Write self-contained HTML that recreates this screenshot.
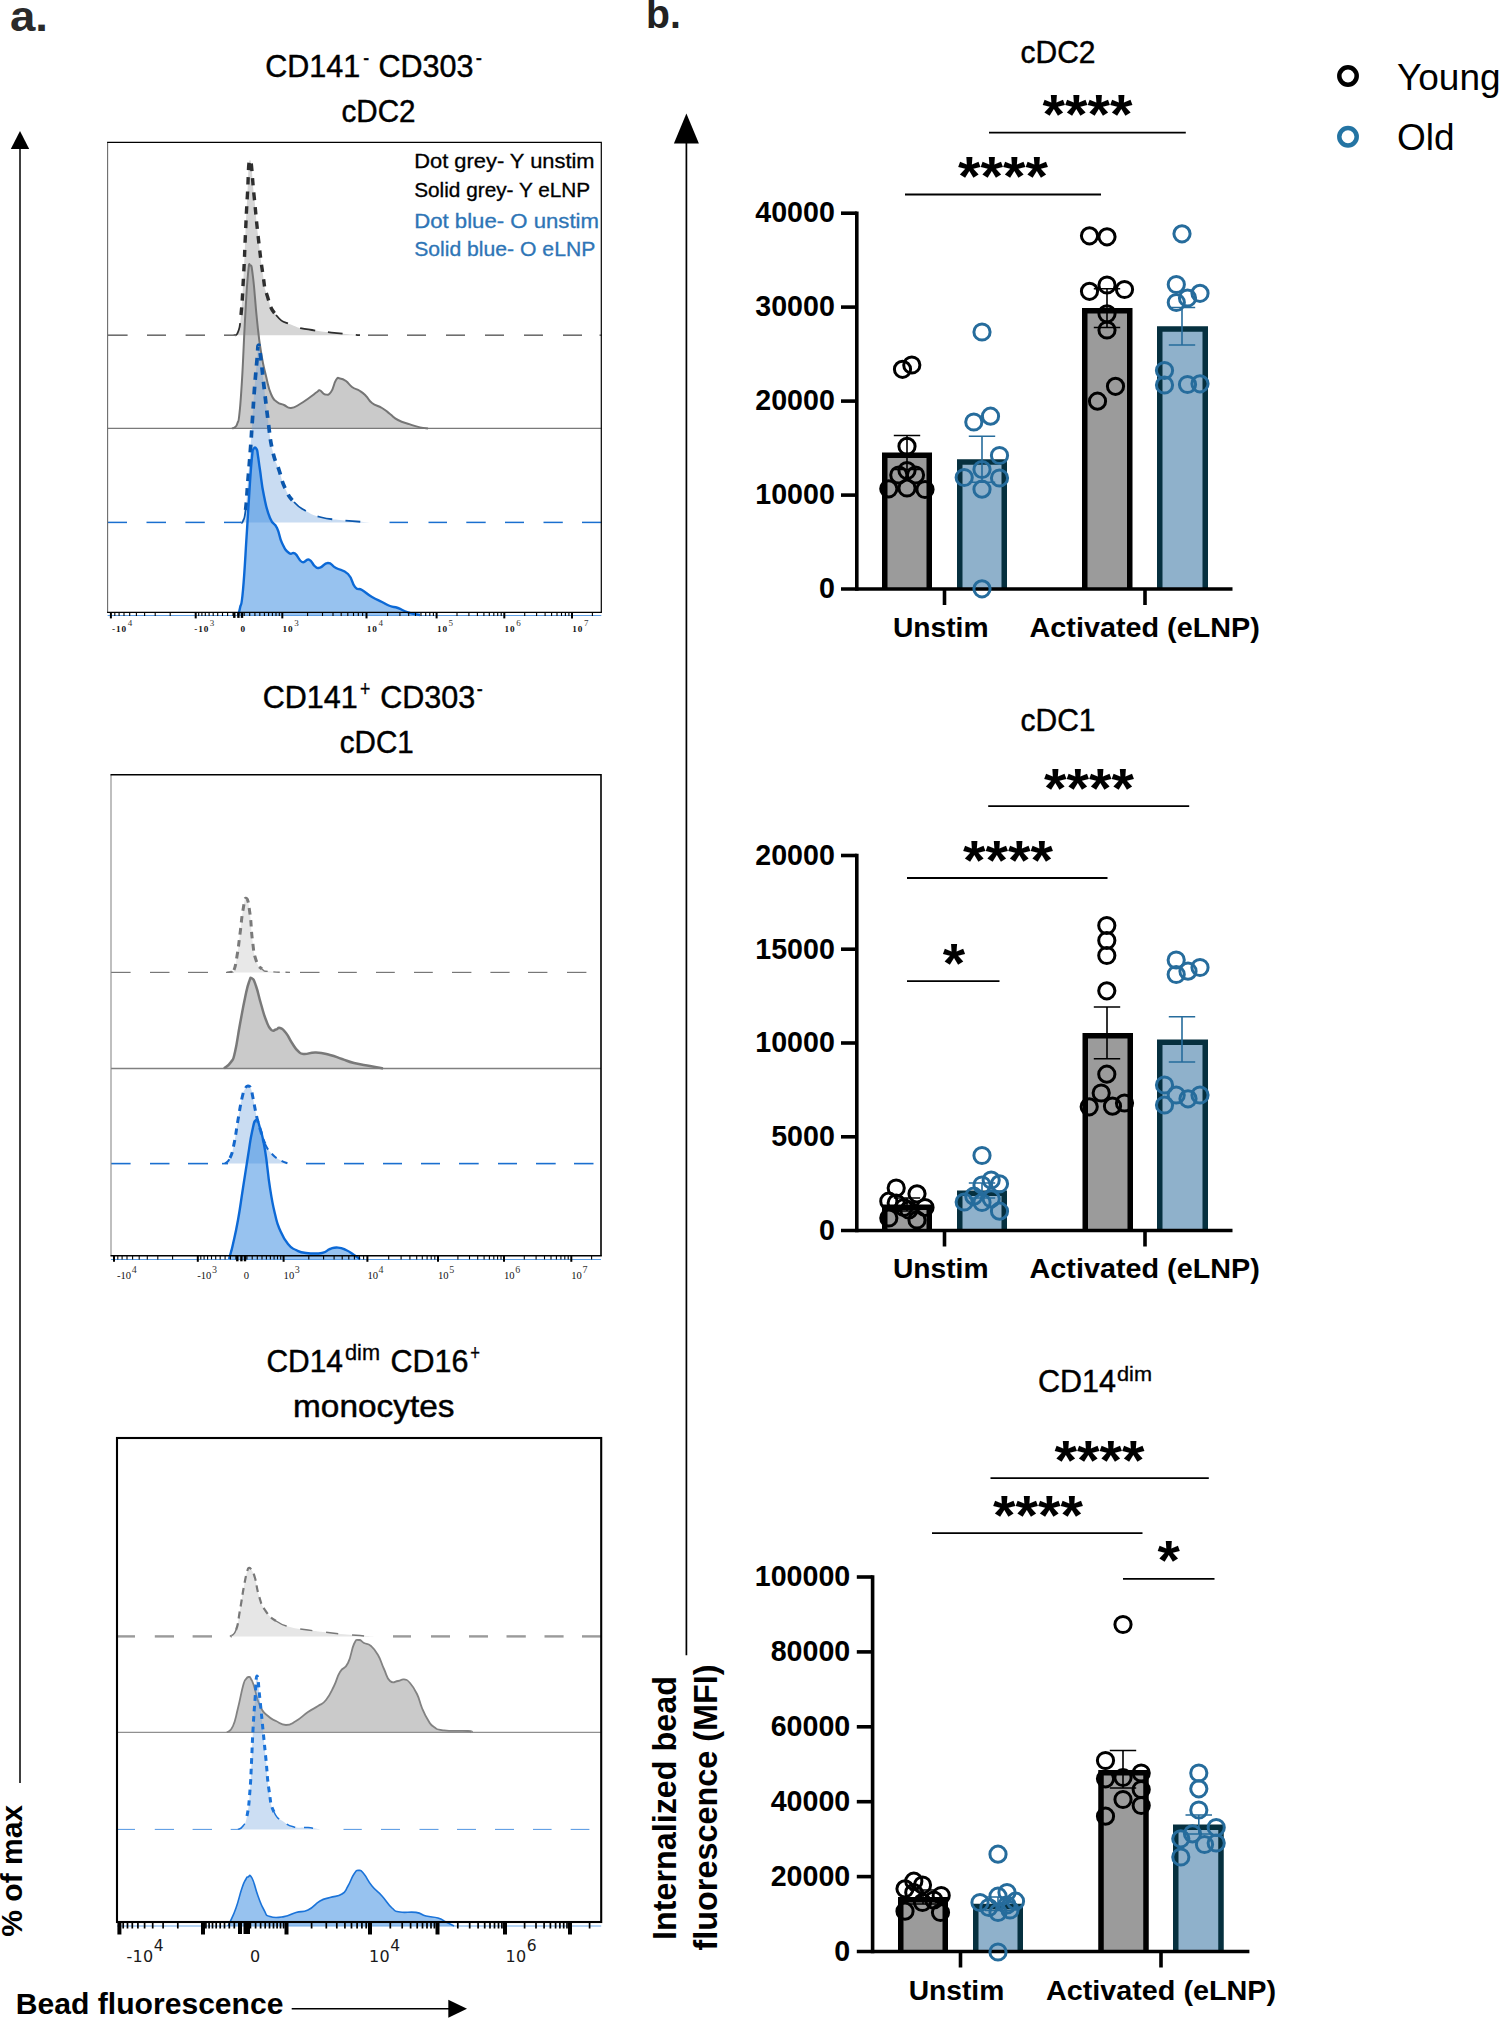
<!DOCTYPE html>
<html><head><meta charset="utf-8"><title>Figure</title>
<style>html,body{margin:0;padding:0;background:#fff;}svg{display:block;font-family:'Liberation Sans', Arial, sans-serif;}</style>
</head><body>
<svg width="1500" height="2018" viewBox="0 0 1500 2018">
<rect width="1500" height="2018" fill="#fff"/>
<g id="panelA">
<text x="10.0" y="31.0" font-size="42.00" font-weight="bold" fill="#2a2a2a" text-anchor="start" textLength="38.0" lengthAdjust="spacingAndGlyphs" >a.</text>
<line x1="20" y1="148" x2="20" y2="1783" stroke="#000" stroke-width="1.5"/>
<polygon points="20,131 10.8,149 29.2,149" fill="#000"/>
<text transform="translate(21.8,1936.7) rotate(-90)" font-size="30" font-weight="bold" fill="#000">% of max</text>
<text x="15.8" y="2013.5" font-size="29.50" font-weight="bold" fill="#000" text-anchor="start" textLength="267.7" lengthAdjust="spacingAndGlyphs" >Bead fluorescence</text>
<line x1="291.7" y1="2008.7" x2="450" y2="2008.7" stroke="#000" stroke-width="1.5"/>
<polygon points="467,2008.7 448.3,1999.7 448.3,2017.7" fill="#000"/>
<g id="plot1">
<path d="M234.0 335.2C235.1 334.3 236.1 337.4 238.0 332.0C239.9 326.6 239.5 330.2 241.0 315.0C242.5 299.8 242.4 296.3 243.6 275.0C244.8 253.7 244.4 256.3 245.4 235.0C246.4 213.7 246.2 215.0 247.4 195.0C248.6 175.0 248.2 160.0 250.0 160.0C251.8 160.0 251.9 175.0 254.0 195.0C256.1 215.0 255.6 213.7 258.0 235.0C260.4 256.3 260.6 259.0 263.0 275.0C265.4 291.0 263.5 284.3 267.0 295.0C270.5 305.7 269.3 307.0 276.0 315.0C282.7 323.0 282.4 321.0 292.0 325.0C301.6 329.0 297.6 327.6 312.0 330.0C326.4 332.4 333.2 332.6 346.0 334.0C358.8 335.4 356.3 334.9 360.0 335.2 L360.0 335.2 L234.0 335.2 Z" fill="#d6d6d6" fill-opacity="1.00" stroke="none"/>
<path d="M234.0 335.2C235.1 334.3 236.1 337.4 238.0 332.0C239.9 326.6 239.5 330.2 241.0 315.0" fill="none" stroke="#2e2e2e" stroke-width="1.80" stroke-dasharray="15 13"/>
<path d="M241.0 315.0C242.5 299.8 242.4 296.3 243.6 275.0C244.8 253.7 244.4 256.3 245.4 235.0C246.4 213.7 246.2 215.0 247.4 195.0C248.6 175.0 248.2 160.0 250.0 160.0C251.8 160.0 251.9 175.0 254.0 195.0C256.1 215.0 255.6 213.7 258.0 235.0C260.4 256.3 260.6 259.0 263.0 275.0C265.4 291.0 263.5 284.3 267.0 295.0C270.5 305.7 269.3 307.0 276.0 315.0" fill="none" stroke="#2e2e2e" stroke-width="3.40" stroke-dasharray="7.5 7" stroke-linejoin="round"/>
<path d="M276.0 315.0C282.7 323.0 282.4 321.0 292.0 325.0C301.6 329.0 297.6 327.6 312.0 330.0C326.4 332.4 333.2 332.6 346.0 334.0C358.8 335.4 356.3 334.9 360.0 335.2" fill="none" stroke="#2e2e2e" stroke-width="1.80" stroke-dasharray="15 13"/>
<line x1="107.6" y1="335.2" x2="127.6" y2="335.2" stroke="#6e6e6e" stroke-width="1.60"/>
<line x1="147.0" y1="335.2" x2="166.0" y2="335.2" stroke="#6e6e6e" stroke-width="1.60"/>
<line x1="185.6" y1="335.2" x2="205.0" y2="335.2" stroke="#6e6e6e" stroke-width="1.60"/>
<line x1="224.0" y1="335.2" x2="236.0" y2="335.2" stroke="#6e6e6e" stroke-width="1.60"/>
<line x1="368.0" y1="335.2" x2="388.0" y2="335.2" stroke="#6e6e6e" stroke-width="1.60"/>
<line x1="407.0" y1="335.2" x2="426.0" y2="335.2" stroke="#6e6e6e" stroke-width="1.60"/>
<line x1="446.0" y1="335.2" x2="465.0" y2="335.2" stroke="#6e6e6e" stroke-width="1.60"/>
<line x1="485.0" y1="335.2" x2="504.0" y2="335.2" stroke="#6e6e6e" stroke-width="1.60"/>
<line x1="524.0" y1="335.2" x2="543.0" y2="335.2" stroke="#6e6e6e" stroke-width="1.60"/>
<line x1="563.0" y1="335.2" x2="582.0" y2="335.2" stroke="#6e6e6e" stroke-width="1.60"/>
<line x1="599.5" y1="335.2" x2="601.8" y2="335.2" stroke="#6e6e6e" stroke-width="1.60"/>
<path d="M232.0 428.4C232.8 428.1 233.5 428.6 235.0 427.2C236.5 425.8 236.3 426.8 237.5 423.0C238.7 419.2 238.3 424.5 239.5 413.0C240.7 401.5 240.5 404.8 242.0 380.0C243.5 355.2 243.4 348.3 245.0 320.0C246.6 291.7 246.6 288.5 248.0 274.0C249.4 259.5 249.0 264.7 250.3 265.5C251.6 266.3 251.2 262.5 253.0 277.0C254.8 291.5 254.9 300.0 257.0 320.0C259.1 340.0 258.6 337.1 261.0 352.0C263.4 366.9 263.3 364.8 266.0 376.0C268.7 387.2 268.1 387.1 271.0 394.0C273.9 400.9 273.5 399.1 277.0 402.0C280.5 404.9 280.3 403.4 284.0 405.0C287.7 406.6 286.7 408.3 291.0 408.0C295.3 407.7 295.2 406.7 300.0 404.0C304.8 401.3 304.5 401.2 309.0 398.0C313.5 394.8 314.1 394.0 317.0 392.0C319.9 390.0 317.9 389.8 320.0 390.4C322.1 391.0 322.1 394.0 325.0 394.4C327.9 394.8 328.1 395.8 331.0 392.0C333.9 388.2 333.6 383.6 336.0 380.0C338.4 376.4 337.3 378.1 340.0 378.4C342.7 378.7 342.8 378.7 346.0 381.0C349.2 383.3 348.3 384.3 352.0 387.0C355.7 389.7 356.3 388.6 360.0 391.0C363.7 393.4 362.8 392.8 366.0 396.0C369.2 399.2 367.7 399.8 372.0 403.0C376.3 406.2 377.2 405.1 382.0 408.0C386.8 410.9 385.7 410.8 390.0 414.0C394.3 417.2 392.7 417.2 398.0 420.0C403.3 422.8 404.1 422.4 410.0 424.4C415.9 426.4 415.2 426.3 420.0 427.4C424.8 428.5 425.9 428.1 428.0 428.4 L428.0 428.4 L232.0 428.4 Z" fill="#808080" fill-opacity="0.42" stroke="none"/>
<path d="M107.6 428.4 L601.3 428.4" fill="none" stroke="#7a7a7a" stroke-width="1.30"/>
<path d="M232.0 428.4C232.8 428.1 233.5 428.6 235.0 427.2C236.5 425.8 236.3 426.8 237.5 423.0C238.7 419.2 238.3 424.5 239.5 413.0C240.7 401.5 240.5 404.8 242.0 380.0C243.5 355.2 243.4 348.3 245.0 320.0C246.6 291.7 246.6 288.5 248.0 274.0C249.4 259.5 249.0 264.7 250.3 265.5C251.6 266.3 251.2 262.5 253.0 277.0C254.8 291.5 254.9 300.0 257.0 320.0C259.1 340.0 258.6 337.1 261.0 352.0C263.4 366.9 263.3 364.8 266.0 376.0C268.7 387.2 268.1 387.1 271.0 394.0C273.9 400.9 273.5 399.1 277.0 402.0C280.5 404.9 280.3 403.4 284.0 405.0C287.7 406.6 286.7 408.3 291.0 408.0C295.3 407.7 295.2 406.7 300.0 404.0C304.8 401.3 304.5 401.2 309.0 398.0C313.5 394.8 314.1 394.0 317.0 392.0C319.9 390.0 317.9 389.8 320.0 390.4C322.1 391.0 322.1 394.0 325.0 394.4C327.9 394.8 328.1 395.8 331.0 392.0C333.9 388.2 333.6 383.6 336.0 380.0C338.4 376.4 337.3 378.1 340.0 378.4C342.7 378.7 342.8 378.7 346.0 381.0C349.2 383.3 348.3 384.3 352.0 387.0C355.7 389.7 356.3 388.6 360.0 391.0C363.7 393.4 362.8 392.8 366.0 396.0C369.2 399.2 367.7 399.8 372.0 403.0C376.3 406.2 377.2 405.1 382.0 408.0C386.8 410.9 385.7 410.8 390.0 414.0C394.3 417.2 392.7 417.2 398.0 420.0C403.3 422.8 404.1 422.4 410.0 424.4C415.9 426.4 415.2 426.3 420.0 427.4C424.8 428.5 425.9 428.1 428.0 428.4" fill="none" stroke="#757575" stroke-width="2.00" stroke-linejoin="round"/>
<path d="M241.0 522.4C241.5 522.0 241.8 524.3 243.0 521.0C244.2 517.7 244.3 520.9 245.6 510.0C246.9 499.1 246.7 496.0 248.0 480.0C249.3 464.0 249.2 466.0 250.4 450.0C251.6 434.0 251.3 436.0 252.4 420.0C253.5 404.0 253.2 406.0 254.4 390.0C255.6 374.0 255.9 372.0 257.0 360.0C258.1 348.0 257.5 345.0 258.6 345.0C259.7 345.0 259.5 348.0 261.0 360.0C262.5 372.0 262.5 374.0 264.4 390.0C266.3 406.0 265.9 404.0 268.0 420.0C270.1 436.0 269.5 436.7 272.4 450.0C275.3 463.3 275.6 459.9 279.0 470.0C282.4 480.1 281.0 479.5 285.0 488.0C289.0 496.5 288.4 495.9 294.0 502.0C299.6 508.1 299.1 507.0 306.0 511.0C312.9 515.0 310.9 514.6 320.0 517.0C329.1 519.4 326.7 518.6 340.0 520.0C353.3 521.4 362.0 521.8 370.0 522.4 L370.0 522.4 L241.0 522.4 Z" fill="#6a9fdc" fill-opacity="0.36" stroke="none"/>
<path d="M241.0 522.4C241.5 522.0 241.8 524.3 243.0 521.0C244.2 517.7 244.3 520.9 245.6 510.0" fill="none" stroke="#0b57ad" stroke-width="1.80" stroke-dasharray="15 13"/>
<path d="M245.6 510.0C246.9 499.1 246.7 496.0 248.0 480.0C249.3 464.0 249.2 466.0 250.4 450.0C251.6 434.0 251.3 436.0 252.4 420.0C253.5 404.0 253.2 406.0 254.4 390.0C255.6 374.0 255.9 372.0 257.0 360.0C258.1 348.0 257.5 345.0 258.6 345.0C259.7 345.0 259.5 348.0 261.0 360.0C262.5 372.0 262.5 374.0 264.4 390.0C266.3 406.0 265.9 404.0 268.0 420.0C270.1 436.0 269.5 436.7 272.4 450.0C275.3 463.3 275.6 459.9 279.0 470.0C282.4 480.1 281.0 479.5 285.0 488.0C289.0 496.5 288.4 495.9 294.0 502.0" fill="none" stroke="#0b57ad" stroke-width="3.70" stroke-dasharray="7.5 7" stroke-linejoin="round"/>
<path d="M294.0 502.0C299.6 508.1 299.1 507.0 306.0 511.0C312.9 515.0 310.9 514.6 320.0 517.0C329.1 519.4 326.7 518.6 340.0 520.0C353.3 521.4 362.0 521.8 370.0 522.4" fill="none" stroke="#0b57ad" stroke-width="1.80" stroke-dasharray="15 13"/>
<line x1="107.7" y1="522.4" x2="127.0" y2="522.4" stroke="#1a6fcf" stroke-width="1.50"/>
<line x1="146.5" y1="522.4" x2="166.0" y2="522.4" stroke="#1a6fcf" stroke-width="1.50"/>
<line x1="185.4" y1="522.4" x2="204.8" y2="522.4" stroke="#1a6fcf" stroke-width="1.50"/>
<line x1="224.0" y1="522.4" x2="241.0" y2="522.4" stroke="#1a6fcf" stroke-width="1.50"/>
<line x1="389.5" y1="522.4" x2="408.0" y2="522.4" stroke="#1a6fcf" stroke-width="1.50"/>
<line x1="428.5" y1="522.4" x2="447.0" y2="522.4" stroke="#1a6fcf" stroke-width="1.50"/>
<line x1="466.3" y1="522.4" x2="485.7" y2="522.4" stroke="#1a6fcf" stroke-width="1.50"/>
<line x1="505.0" y1="522.4" x2="524.0" y2="522.4" stroke="#1a6fcf" stroke-width="1.50"/>
<line x1="543.5" y1="522.4" x2="562.8" y2="522.4" stroke="#1a6fcf" stroke-width="1.50"/>
<line x1="582.0" y1="522.4" x2="601.6" y2="522.4" stroke="#1a6fcf" stroke-width="1.50"/>
<path d="M238.0 615.0C238.5 613.1 238.7 614.7 240.0 608.0C241.3 601.3 241.1 610.8 243.0 590.0C244.9 569.2 245.1 558.8 247.0 530.0C248.9 501.2 248.7 501.5 250.0 482.0C251.3 462.5 251.1 465.8 252.0 457.0C252.9 448.2 252.3 451.1 253.5 449.0C254.7 446.9 255.3 447.1 256.5 449.0C257.7 450.9 257.1 450.4 258.0 456.0C258.9 461.6 258.4 459.3 260.0 470.0C261.6 480.7 261.3 483.2 264.0 496.0C266.7 508.8 266.5 509.5 270.0 518.0C273.5 526.5 273.8 521.3 277.0 528.0C280.2 534.7 278.8 536.3 282.0 543.0C285.2 549.7 285.5 550.2 289.0 553.0C292.5 555.8 291.5 551.2 295.0 553.6C298.5 556.0 298.3 560.4 302.0 562.0C305.7 563.6 305.5 558.4 309.0 559.6C312.5 560.8 312.1 564.3 315.0 566.4C317.9 568.5 316.5 568.5 320.0 567.6C323.5 566.7 323.7 562.9 328.0 563.0C332.3 563.1 330.7 565.1 336.0 568.0C341.3 570.9 342.9 568.9 348.0 574.0C353.1 579.1 351.3 582.7 355.0 587.0C358.7 591.3 357.5 587.3 362.0 590.0C366.5 592.7 366.7 593.8 372.0 597.0C377.3 600.2 377.2 599.6 382.0 602.0C386.8 604.4 385.7 604.4 390.0 606.0C394.3 607.6 393.2 606.3 398.0 608.0C402.8 609.7 402.1 610.5 408.0 612.4C413.9 614.3 416.8 614.3 420.0 615.0 L420.0 615.5 L238.0 615.5 Z" fill="#2f86e0" fill-opacity="0.50" stroke="none"/>
<path d="M107.6 615.5 L601.3 615.5" fill="none" stroke="#5e9fe6" stroke-width="1.00"/>
<path d="M238.0 615.0C238.5 613.1 238.7 614.7 240.0 608.0C241.3 601.3 241.1 610.8 243.0 590.0C244.9 569.2 245.1 558.8 247.0 530.0C248.9 501.2 248.7 501.5 250.0 482.0C251.3 462.5 251.1 465.8 252.0 457.0C252.9 448.2 252.3 451.1 253.5 449.0C254.7 446.9 255.3 447.1 256.5 449.0C257.7 450.9 257.1 450.4 258.0 456.0C258.9 461.6 258.4 459.3 260.0 470.0C261.6 480.7 261.3 483.2 264.0 496.0C266.7 508.8 266.5 509.5 270.0 518.0C273.5 526.5 273.8 521.3 277.0 528.0C280.2 534.7 278.8 536.3 282.0 543.0C285.2 549.7 285.5 550.2 289.0 553.0C292.5 555.8 291.5 551.2 295.0 553.6C298.5 556.0 298.3 560.4 302.0 562.0C305.7 563.6 305.5 558.4 309.0 559.6C312.5 560.8 312.1 564.3 315.0 566.4C317.9 568.5 316.5 568.5 320.0 567.6C323.5 566.7 323.7 562.9 328.0 563.0C332.3 563.1 330.7 565.1 336.0 568.0C341.3 570.9 342.9 568.9 348.0 574.0C353.1 579.1 351.3 582.7 355.0 587.0C358.7 591.3 357.5 587.3 362.0 590.0C366.5 592.7 366.7 593.8 372.0 597.0C377.3 600.2 377.2 599.6 382.0 602.0C386.8 604.4 385.7 604.4 390.0 606.0C394.3 607.6 393.2 606.3 398.0 608.0C402.8 609.7 402.1 610.5 408.0 612.4C413.9 614.3 416.8 614.3 420.0 615.0" fill="none" stroke="#0c69d6" stroke-width="2.40" stroke-linejoin="round"/>
<path d="M107.6 142.4 V612.4" fill="none" stroke="#6a6a6a" stroke-width="1.1"/>
<path d="M107.1 142.4 H601.3 V612.4" fill="none" stroke="#000" stroke-width="1.2"/>
<path d="M107.1 612.4 H601.9" fill="none" stroke="#000" stroke-width="1.2"/>
<line x1="307.6" y1="612.4" x2="307.6" y2="616.0" stroke="#000" stroke-width="1.10"/>
<line x1="322.5" y1="612.4" x2="322.5" y2="616.0" stroke="#000" stroke-width="1.10"/>
<line x1="333.0" y1="612.4" x2="333.0" y2="616.0" stroke="#000" stroke-width="1.10"/>
<line x1="341.2" y1="612.4" x2="341.2" y2="616.0" stroke="#000" stroke-width="1.10"/>
<line x1="347.8" y1="612.4" x2="347.8" y2="616.0" stroke="#000" stroke-width="1.10"/>
<line x1="353.5" y1="612.4" x2="353.5" y2="616.0" stroke="#000" stroke-width="1.10"/>
<line x1="358.3" y1="612.4" x2="358.3" y2="616.0" stroke="#000" stroke-width="1.10"/>
<line x1="362.6" y1="612.4" x2="362.6" y2="616.0" stroke="#000" stroke-width="1.10"/>
<line x1="387.6" y1="612.4" x2="387.6" y2="616.0" stroke="#000" stroke-width="1.10"/>
<line x1="399.9" y1="612.4" x2="399.9" y2="616.0" stroke="#000" stroke-width="1.10"/>
<line x1="408.7" y1="612.4" x2="408.7" y2="616.0" stroke="#000" stroke-width="1.10"/>
<line x1="415.5" y1="612.4" x2="415.5" y2="616.0" stroke="#000" stroke-width="1.10"/>
<line x1="421.0" y1="612.4" x2="421.0" y2="616.0" stroke="#000" stroke-width="1.10"/>
<line x1="425.7" y1="612.4" x2="425.7" y2="616.0" stroke="#000" stroke-width="1.10"/>
<line x1="429.8" y1="612.4" x2="429.8" y2="616.0" stroke="#000" stroke-width="1.10"/>
<line x1="433.4" y1="612.4" x2="433.4" y2="616.0" stroke="#000" stroke-width="1.10"/>
<line x1="457.0" y1="612.4" x2="457.0" y2="616.0" stroke="#000" stroke-width="1.10"/>
<line x1="468.9" y1="612.4" x2="468.9" y2="616.0" stroke="#000" stroke-width="1.10"/>
<line x1="477.4" y1="612.4" x2="477.4" y2="616.0" stroke="#000" stroke-width="1.10"/>
<line x1="483.9" y1="612.4" x2="483.9" y2="616.0" stroke="#000" stroke-width="1.10"/>
<line x1="489.3" y1="612.4" x2="489.3" y2="616.0" stroke="#000" stroke-width="1.10"/>
<line x1="493.8" y1="612.4" x2="493.8" y2="616.0" stroke="#000" stroke-width="1.10"/>
<line x1="497.7" y1="612.4" x2="497.7" y2="616.0" stroke="#000" stroke-width="1.10"/>
<line x1="501.2" y1="612.4" x2="501.2" y2="616.0" stroke="#000" stroke-width="1.10"/>
<line x1="524.7" y1="612.4" x2="524.7" y2="616.0" stroke="#000" stroke-width="1.10"/>
<line x1="536.6" y1="612.4" x2="536.6" y2="616.0" stroke="#000" stroke-width="1.10"/>
<line x1="545.1" y1="612.4" x2="545.1" y2="616.0" stroke="#000" stroke-width="1.10"/>
<line x1="551.6" y1="612.4" x2="551.6" y2="616.0" stroke="#000" stroke-width="1.10"/>
<line x1="557.0" y1="612.4" x2="557.0" y2="616.0" stroke="#000" stroke-width="1.10"/>
<line x1="561.5" y1="612.4" x2="561.5" y2="616.0" stroke="#000" stroke-width="1.10"/>
<line x1="565.4" y1="612.4" x2="565.4" y2="616.0" stroke="#000" stroke-width="1.10"/>
<line x1="568.9" y1="612.4" x2="568.9" y2="616.0" stroke="#000" stroke-width="1.10"/>
<line x1="592.4" y1="612.4" x2="592.4" y2="616.0" stroke="#000" stroke-width="1.10"/>
<line x1="170.2" y1="612.4" x2="170.2" y2="616.0" stroke="#000" stroke-width="1.10"/>
<line x1="155.2" y1="612.4" x2="155.2" y2="616.0" stroke="#000" stroke-width="1.10"/>
<line x1="144.6" y1="612.4" x2="144.6" y2="616.0" stroke="#000" stroke-width="1.10"/>
<line x1="136.4" y1="612.4" x2="136.4" y2="616.0" stroke="#000" stroke-width="1.10"/>
<line x1="129.7" y1="612.4" x2="129.7" y2="616.0" stroke="#000" stroke-width="1.10"/>
<line x1="124.0" y1="612.4" x2="124.0" y2="616.0" stroke="#000" stroke-width="1.10"/>
<line x1="119.1" y1="612.4" x2="119.1" y2="616.0" stroke="#000" stroke-width="1.10"/>
<line x1="114.8" y1="612.4" x2="114.8" y2="616.0" stroke="#000" stroke-width="1.10"/>
<line x1="244.2" y1="612.4" x2="244.2" y2="616.0" stroke="#000" stroke-width="1.10"/>
<line x1="249.7" y1="612.4" x2="249.7" y2="616.0" stroke="#000" stroke-width="1.10"/>
<line x1="254.9" y1="612.4" x2="254.9" y2="616.0" stroke="#000" stroke-width="1.10"/>
<line x1="259.8" y1="612.4" x2="259.8" y2="616.0" stroke="#000" stroke-width="1.10"/>
<line x1="264.4" y1="612.4" x2="264.4" y2="616.0" stroke="#000" stroke-width="1.10"/>
<line x1="268.6" y1="612.4" x2="268.6" y2="616.0" stroke="#000" stroke-width="1.10"/>
<line x1="272.4" y1="612.4" x2="272.4" y2="616.0" stroke="#000" stroke-width="1.10"/>
<line x1="276.0" y1="612.4" x2="276.0" y2="616.0" stroke="#000" stroke-width="1.10"/>
<line x1="279.3" y1="612.4" x2="279.3" y2="616.0" stroke="#000" stroke-width="1.10"/>
<line x1="233.0" y1="612.4" x2="233.0" y2="616.0" stroke="#000" stroke-width="1.10"/>
<line x1="227.6" y1="612.4" x2="227.6" y2="616.0" stroke="#000" stroke-width="1.10"/>
<line x1="222.5" y1="612.4" x2="222.5" y2="616.0" stroke="#000" stroke-width="1.10"/>
<line x1="217.7" y1="612.4" x2="217.7" y2="616.0" stroke="#000" stroke-width="1.10"/>
<line x1="213.2" y1="612.4" x2="213.2" y2="616.0" stroke="#000" stroke-width="1.10"/>
<line x1="209.1" y1="612.4" x2="209.1" y2="616.0" stroke="#000" stroke-width="1.10"/>
<line x1="205.3" y1="612.4" x2="205.3" y2="616.0" stroke="#000" stroke-width="1.10"/>
<line x1="201.9" y1="612.4" x2="201.9" y2="616.0" stroke="#000" stroke-width="1.10"/>
<line x1="198.7" y1="612.4" x2="198.7" y2="616.0" stroke="#000" stroke-width="1.10"/>
<line x1="110.9" y1="612.4" x2="110.9" y2="618.4" stroke="#000" stroke-width="2.00"/>
<line x1="195.7" y1="612.4" x2="195.7" y2="618.4" stroke="#000" stroke-width="2.00"/>
<line x1="282.3" y1="612.4" x2="282.3" y2="618.4" stroke="#000" stroke-width="2.00"/>
<line x1="366.5" y1="612.4" x2="366.5" y2="618.4" stroke="#000" stroke-width="2.00"/>
<line x1="436.6" y1="612.4" x2="436.6" y2="618.4" stroke="#000" stroke-width="2.00"/>
<line x1="504.3" y1="612.4" x2="504.3" y2="618.4" stroke="#000" stroke-width="2.00"/>
<line x1="572.0" y1="612.4" x2="572.0" y2="618.4" stroke="#000" stroke-width="2.00"/>
<rect x="233.1" y="612.4" width="2.4" height="5.5" fill="#000"/>
<rect x="237.2" y="612.4" width="2.4" height="5.5" fill="#000"/>
<rect x="240.8" y="612.4" width="2.4" height="5.5" fill="#000"/>
<text x="112.1" y="631.8" font-size="9.2" fill="#111" font-weight="bold" letter-spacing="0.9" font-family='"Liberation Serif", "DejaVu Serif", serif'>-10<tspan dx="0.6" dy="-5.6" font-size="9.0" font-weight="normal" fill="#333">4</tspan></text>
<text x="194.2" y="631.8" font-size="9.2" fill="#111" font-weight="bold" letter-spacing="0.9" font-family='"Liberation Serif", "DejaVu Serif", serif'>-10<tspan dx="0.6" dy="-5.6" font-size="9.0" font-weight="normal" fill="#333">3</tspan></text>
<text x="240.5" y="631.8" font-size="9.2" fill="#111" font-weight="bold" letter-spacing="0.9" font-family='"Liberation Serif", "DejaVu Serif", serif'>0</text>
<text x="282.6" y="631.8" font-size="9.2" fill="#111" font-weight="bold" letter-spacing="0.9" font-family='"Liberation Serif", "DejaVu Serif", serif'>10<tspan dx="0.6" dy="-5.6" font-size="9.0" font-weight="normal" fill="#333">3</tspan></text>
<text x="366.8" y="631.8" font-size="9.2" fill="#111" font-weight="bold" letter-spacing="0.9" font-family='"Liberation Serif", "DejaVu Serif", serif'>10<tspan dx="0.6" dy="-5.6" font-size="9.0" font-weight="normal" fill="#333">4</tspan></text>
<text x="436.9" y="631.8" font-size="9.2" fill="#111" font-weight="bold" letter-spacing="0.9" font-family='"Liberation Serif", "DejaVu Serif", serif'>10<tspan dx="0.6" dy="-5.6" font-size="9.0" font-weight="normal" fill="#333">5</tspan></text>
<text x="504.6" y="631.8" font-size="9.2" fill="#111" font-weight="bold" letter-spacing="0.9" font-family='"Liberation Serif", "DejaVu Serif", serif'>10<tspan dx="0.6" dy="-5.6" font-size="9.0" font-weight="normal" fill="#333">6</tspan></text>
<text x="572.3" y="631.8" font-size="9.2" fill="#111" font-weight="bold" letter-spacing="0.9" font-family='"Liberation Serif", "DejaVu Serif", serif'>10<tspan dx="0.6" dy="-5.6" font-size="9.0" font-weight="normal" fill="#333">7</tspan></text>
<text x="414.2" y="168.0" font-size="19.50" font-weight="normal" fill="#000" text-anchor="start" textLength="180.4" lengthAdjust="spacingAndGlyphs"  stroke="#000" stroke-width="0.30">Dot grey- Y unstim</text>
<text x="414.2" y="197.3" font-size="19.50" font-weight="normal" fill="#000" text-anchor="start" textLength="176.0" lengthAdjust="spacingAndGlyphs"  stroke="#000" stroke-width="0.30">Solid grey- Y eLNP</text>
<text x="414.2" y="227.7" font-size="19.50" font-weight="normal" fill="#2e75b6" text-anchor="start" textLength="184.8" lengthAdjust="spacingAndGlyphs"  stroke="#2e75b6" stroke-width="0.30">Dot blue- O unstim</text>
<text x="414.2" y="255.6" font-size="19.50" font-weight="normal" fill="#2e75b6" text-anchor="start" textLength="181.1" lengthAdjust="spacingAndGlyphs"  stroke="#2e75b6" stroke-width="0.30">Solid blue- O eLNP</text>
</g>
<text x="265.2" y="76.7" font-size="30.50" font-weight="normal" fill="#000" text-anchor="start" textLength="95.0" lengthAdjust="spacingAndGlyphs"  stroke="#000" stroke-width="0.45">CD141</text>
<text x="363.3" y="65.1" font-size="21.35" font-weight="normal" fill="#000" text-anchor="start" textLength="5.9" lengthAdjust="spacingAndGlyphs"  stroke="#000" stroke-width="0.30">-</text>
<text x="378.5" y="76.7" font-size="30.50" font-weight="normal" fill="#000" text-anchor="start" textLength="95.0" lengthAdjust="spacingAndGlyphs"  stroke="#000" stroke-width="0.45">CD303</text>
<text x="475.8" y="65.1" font-size="21.35" font-weight="normal" fill="#000" text-anchor="start" textLength="6.2" lengthAdjust="spacingAndGlyphs"  stroke="#000" stroke-width="0.30">-</text>
<text x="341.5" y="121.7" font-size="30.50" font-weight="normal" fill="#000" text-anchor="start" textLength="74.0" lengthAdjust="spacingAndGlyphs"  stroke="#000" stroke-width="0.45">cDC2</text>
<g id="plot2">
<path d="M227.0 972.4C228.1 972.2 229.1 972.1 231.0 971.5C232.9 970.9 232.4 974.1 234.0 970.0C235.6 965.9 235.4 965.6 237.0 956.0C238.6 946.4 238.4 946.3 240.0 934.0C241.6 921.7 241.3 919.5 243.0 910.0C244.7 900.5 244.5 897.3 246.4 898.4C248.3 899.5 248.4 902.9 250.0 914.0C251.6 925.1 250.8 927.7 252.4 940.0C254.0 952.3 253.4 952.3 256.0 960.0C258.6 967.7 258.3 965.9 262.0 969.0C265.7 972.1 262.5 970.7 270.0 971.6C277.5 972.5 284.7 972.2 290.0 972.4 L290.0 972.4 L227.0 972.4 Z" fill="#e8e8e8" fill-opacity="1.00" stroke="none"/>
<path d="M227.0 972.4C228.1 972.2 229.1 972.1 231.0 971.5C232.9 970.9 232.4 974.1 234.0 970.0" fill="none" stroke="#7a7a7a" stroke-width="1.40" stroke-dasharray="6.5 5.5"/>
<path d="M234.0 970.0C235.6 965.9 235.4 965.6 237.0 956.0C238.6 946.4 238.4 946.3 240.0 934.0C241.6 921.7 241.3 919.5 243.0 910.0C244.7 900.5 244.5 897.3 246.4 898.4C248.3 899.5 248.4 902.9 250.0 914.0C251.6 925.1 250.8 927.7 252.4 940.0C254.0 952.3 253.4 952.3 256.0 960.0C258.6 967.7 258.3 965.9 262.0 969.0" fill="none" stroke="#7a7a7a" stroke-width="3.00" stroke-dasharray="6.5 5.5" stroke-linejoin="round"/>
<path d="M262.0 969.0C265.7 972.1 262.5 970.7 270.0 971.6C277.5 972.5 284.7 972.2 290.0 972.4" fill="none" stroke="#7a7a7a" stroke-width="1.40" stroke-dasharray="6.5 5.5"/>
<line x1="111.0" y1="972.4" x2="130.6" y2="972.4" stroke="#777" stroke-width="1.20"/>
<line x1="150.0" y1="972.4" x2="169.5" y2="972.4" stroke="#777" stroke-width="1.20"/>
<line x1="188.0" y1="972.4" x2="208.0" y2="972.4" stroke="#777" stroke-width="1.20"/>
<line x1="226.0" y1="972.4" x2="232.0" y2="972.4" stroke="#777" stroke-width="1.20"/>
<line x1="300.0" y1="972.4" x2="319.5" y2="972.4" stroke="#777" stroke-width="1.20"/>
<line x1="338.0" y1="972.4" x2="356.8" y2="972.4" stroke="#777" stroke-width="1.20"/>
<line x1="376.0" y1="972.4" x2="394.8" y2="972.4" stroke="#777" stroke-width="1.20"/>
<line x1="414.0" y1="972.4" x2="432.8" y2="972.4" stroke="#777" stroke-width="1.20"/>
<line x1="452.0" y1="972.4" x2="471.4" y2="972.4" stroke="#777" stroke-width="1.20"/>
<line x1="490.4" y1="972.4" x2="509.6" y2="972.4" stroke="#777" stroke-width="1.20"/>
<line x1="528.0" y1="972.4" x2="547.4" y2="972.4" stroke="#777" stroke-width="1.20"/>
<line x1="567.0" y1="972.4" x2="586.4" y2="972.4" stroke="#777" stroke-width="1.20"/>
<path d="M224.0 1068.4C225.9 1066.7 228.1 1066.4 231.0 1062.0C233.9 1057.6 232.6 1062.1 235.0 1052.0C237.4 1041.9 237.3 1038.4 240.0 1024.0C242.7 1009.6 242.6 1009.2 245.0 998.0C247.4 986.8 247.1 987.2 249.0 982.0C250.9 976.8 250.1 977.3 252.0 978.4C253.9 979.5 253.6 979.2 256.0 986.0C258.4 992.8 258.3 994.9 261.0 1004.0C263.7 1013.1 263.3 1013.2 266.0 1020.0C268.7 1026.8 268.3 1027.0 271.0 1029.6C273.7 1032.2 273.6 1030.0 276.0 1029.6C278.4 1029.2 277.3 1027.1 280.0 1028.0C282.7 1028.9 282.8 1029.0 286.0 1033.0C289.2 1037.0 288.8 1038.2 292.0 1043.0C295.2 1047.8 294.8 1048.1 298.0 1051.0C301.2 1053.9 299.2 1053.6 304.0 1054.0C308.8 1054.4 309.1 1052.1 316.0 1052.4C322.9 1052.7 323.1 1053.2 330.0 1055.0C336.9 1056.8 335.6 1056.9 342.0 1059.0C348.4 1061.1 346.5 1061.1 354.0 1063.0C361.5 1064.9 362.3 1064.6 370.0 1066.0C377.7 1067.4 379.5 1067.8 383.0 1068.4 L383.0 1068.4 L224.0 1068.4 Z" fill="#808080" fill-opacity="0.42" stroke="none"/>
<path d="M111.0 1068.4 L601.0 1068.4" fill="none" stroke="#808080" stroke-width="1.50"/>
<path d="M224.0 1068.4C225.9 1066.7 228.1 1066.4 231.0 1062.0C233.9 1057.6 232.6 1062.1 235.0 1052.0C237.4 1041.9 237.3 1038.4 240.0 1024.0C242.7 1009.6 242.6 1009.2 245.0 998.0C247.4 986.8 247.1 987.2 249.0 982.0C250.9 976.8 250.1 977.3 252.0 978.4C253.9 979.5 253.6 979.2 256.0 986.0C258.4 992.8 258.3 994.9 261.0 1004.0C263.7 1013.1 263.3 1013.2 266.0 1020.0C268.7 1026.8 268.3 1027.0 271.0 1029.6C273.7 1032.2 273.6 1030.0 276.0 1029.6C278.4 1029.2 277.3 1027.1 280.0 1028.0C282.7 1028.9 282.8 1029.0 286.0 1033.0C289.2 1037.0 288.8 1038.2 292.0 1043.0C295.2 1047.8 294.8 1048.1 298.0 1051.0C301.2 1053.9 299.2 1053.6 304.0 1054.0C308.8 1054.4 309.1 1052.1 316.0 1052.4C322.9 1052.7 323.1 1053.2 330.0 1055.0C336.9 1056.8 335.6 1056.9 342.0 1059.0C348.4 1061.1 346.5 1061.1 354.0 1063.0C361.5 1064.9 362.3 1064.6 370.0 1066.0C377.7 1067.4 379.5 1067.8 383.0 1068.4" fill="none" stroke="#797979" stroke-width="2.50" stroke-linejoin="round"/>
<path d="M225.0 1163.6C226.3 1162.1 227.6 1163.2 230.0 1158.0C232.4 1152.8 231.9 1154.1 234.0 1144.0C236.1 1133.9 235.9 1132.3 238.0 1120.0C240.1 1107.7 240.1 1106.3 242.0 1098.0C243.9 1089.7 243.4 1092.2 245.0 1089.0C246.6 1085.8 246.4 1086.0 248.0 1086.0C249.6 1086.0 249.7 1085.8 251.0 1089.0C252.3 1092.2 251.4 1090.3 253.0 1098.0C254.6 1105.7 254.9 1108.9 257.0 1118.0C259.1 1127.1 258.9 1125.1 261.0 1132.0C263.1 1138.9 262.1 1138.1 265.0 1144.0C267.9 1149.9 268.0 1149.7 272.0 1154.0C276.0 1158.3 275.7 1157.4 280.0 1160.0C284.3 1162.6 285.9 1162.6 288.0 1163.6 L288.0 1163.6 L225.0 1163.6 Z" fill="#6a9fdc" fill-opacity="0.36" stroke="none"/>
<path d="M225.0 1163.6C226.3 1162.1 227.6 1163.2 230.0 1158.0" fill="none" stroke="#1467cc" stroke-width="2.00" stroke-dasharray="6.5 5.5"/>
<path d="M230.0 1158.0C232.4 1152.8 231.9 1154.1 234.0 1144.0C236.1 1133.9 235.9 1132.3 238.0 1120.0C240.1 1107.7 240.1 1106.3 242.0 1098.0C243.9 1089.7 243.4 1092.2 245.0 1089.0C246.6 1085.8 246.4 1086.0 248.0 1086.0C249.6 1086.0 249.7 1085.8 251.0 1089.0C252.3 1092.2 251.4 1090.3 253.0 1098.0C254.6 1105.7 254.9 1108.9 257.0 1118.0C259.1 1127.1 258.9 1125.1 261.0 1132.0C263.1 1138.9 262.1 1138.1 265.0 1144.0" fill="none" stroke="#1467cc" stroke-width="3.00" stroke-dasharray="6.5 5.5" stroke-linejoin="round"/>
<path d="M265.0 1144.0C267.9 1149.9 268.0 1149.7 272.0 1154.0C276.0 1158.3 275.7 1157.4 280.0 1160.0C284.3 1162.6 285.9 1162.6 288.0 1163.6" fill="none" stroke="#1467cc" stroke-width="2.00" stroke-dasharray="6.5 5.5"/>
<line x1="111.0" y1="1163.6" x2="130.6" y2="1163.6" stroke="#1a6fcf" stroke-width="1.60"/>
<line x1="150.0" y1="1163.6" x2="169.5" y2="1163.6" stroke="#1a6fcf" stroke-width="1.60"/>
<line x1="188.0" y1="1163.6" x2="208.0" y2="1163.6" stroke="#1a6fcf" stroke-width="1.60"/>
<line x1="222.0" y1="1163.6" x2="228.0" y2="1163.6" stroke="#1a6fcf" stroke-width="1.60"/>
<line x1="306.0" y1="1163.6" x2="325.0" y2="1163.6" stroke="#1a6fcf" stroke-width="1.60"/>
<line x1="344.0" y1="1163.6" x2="364.0" y2="1163.6" stroke="#1a6fcf" stroke-width="1.60"/>
<line x1="383.0" y1="1163.6" x2="402.0" y2="1163.6" stroke="#1a6fcf" stroke-width="1.60"/>
<line x1="421.0" y1="1163.6" x2="440.0" y2="1163.6" stroke="#1a6fcf" stroke-width="1.60"/>
<line x1="459.0" y1="1163.6" x2="478.7" y2="1163.6" stroke="#1a6fcf" stroke-width="1.60"/>
<line x1="498.0" y1="1163.6" x2="517.0" y2="1163.6" stroke="#1a6fcf" stroke-width="1.60"/>
<line x1="536.0" y1="1163.6" x2="555.7" y2="1163.6" stroke="#1a6fcf" stroke-width="1.60"/>
<line x1="574.0" y1="1163.6" x2="593.5" y2="1163.6" stroke="#1a6fcf" stroke-width="1.60"/>
<path d="M229.0 1259.0C229.5 1257.1 229.9 1256.0 231.0 1252.0C232.1 1248.0 231.1 1252.5 233.0 1244.0C234.9 1235.5 235.3 1234.9 238.0 1220.0C240.7 1205.1 240.3 1205.1 243.0 1188.0C245.7 1170.9 245.6 1170.9 248.0 1156.0C250.4 1141.1 249.9 1141.6 252.0 1132.0C254.1 1122.4 253.9 1121.1 256.0 1120.0C258.1 1118.9 257.6 1120.0 260.0 1128.0C262.4 1136.0 262.3 1134.0 265.0 1150.0C267.7 1166.0 267.3 1170.9 270.0 1188.0C272.7 1205.1 272.3 1202.8 275.0 1214.0C277.7 1225.2 276.5 1222.0 280.0 1230.0C283.5 1238.0 283.7 1238.7 288.0 1244.0C292.3 1249.3 291.2 1247.6 296.0 1250.0C300.8 1252.4 299.1 1252.2 306.0 1253.0C312.9 1253.8 315.6 1254.1 322.0 1253.0C328.4 1251.9 325.7 1250.4 330.0 1249.0C334.3 1247.6 333.7 1247.3 338.0 1247.6C342.3 1247.9 341.7 1248.0 346.0 1250.0C350.3 1252.0 350.3 1252.6 354.0 1255.0C357.7 1257.4 358.4 1257.9 360.0 1259.0 L360.0 1259.5 L229.0 1259.5 Z" fill="#2f86e0" fill-opacity="0.50" stroke="none"/>
<path d="M111.0 1259.5 L601.0 1259.5" fill="none" stroke="#5e9fe6" stroke-width="1.00"/>
<path d="M229.0 1259.0C229.5 1257.1 229.9 1256.0 231.0 1252.0C232.1 1248.0 231.1 1252.5 233.0 1244.0C234.9 1235.5 235.3 1234.9 238.0 1220.0C240.7 1205.1 240.3 1205.1 243.0 1188.0C245.7 1170.9 245.6 1170.9 248.0 1156.0C250.4 1141.1 249.9 1141.6 252.0 1132.0C254.1 1122.4 253.9 1121.1 256.0 1120.0C258.1 1118.9 257.6 1120.0 260.0 1128.0C262.4 1136.0 262.3 1134.0 265.0 1150.0C267.7 1166.0 267.3 1170.9 270.0 1188.0C272.7 1205.1 272.3 1202.8 275.0 1214.0C277.7 1225.2 276.5 1222.0 280.0 1230.0C283.5 1238.0 283.7 1238.7 288.0 1244.0C292.3 1249.3 291.2 1247.6 296.0 1250.0C300.8 1252.4 299.1 1252.2 306.0 1253.0C312.9 1253.8 315.6 1254.1 322.0 1253.0C328.4 1251.9 325.7 1250.4 330.0 1249.0C334.3 1247.6 333.7 1247.3 338.0 1247.6C342.3 1247.9 341.7 1248.0 346.0 1250.0C350.3 1252.0 350.3 1252.6 354.0 1255.0C357.7 1257.4 358.4 1257.9 360.0 1259.0" fill="none" stroke="#0c69d6" stroke-width="2.40" stroke-linejoin="round"/>
<path d="M111.0 774.8 V1255.8" fill="none" stroke="#8a8a8a" stroke-width="1.1"/>
<path d="M110.5 774.8 H601.0 V1255.8" fill="none" stroke="#000" stroke-width="1.6"/>
<path d="M110.5 1255.8 H601.8" fill="none" stroke="#000" stroke-width="1.4"/>
<line x1="308.8" y1="1255.8" x2="308.8" y2="1259.4" stroke="#000" stroke-width="1.10"/>
<line x1="323.6" y1="1255.8" x2="323.6" y2="1259.4" stroke="#000" stroke-width="1.10"/>
<line x1="334.1" y1="1255.8" x2="334.1" y2="1259.4" stroke="#000" stroke-width="1.10"/>
<line x1="342.2" y1="1255.8" x2="342.2" y2="1259.4" stroke="#000" stroke-width="1.10"/>
<line x1="348.8" y1="1255.8" x2="348.8" y2="1259.4" stroke="#000" stroke-width="1.10"/>
<line x1="354.4" y1="1255.8" x2="354.4" y2="1259.4" stroke="#000" stroke-width="1.10"/>
<line x1="359.3" y1="1255.8" x2="359.3" y2="1259.4" stroke="#000" stroke-width="1.10"/>
<line x1="363.6" y1="1255.8" x2="363.6" y2="1259.4" stroke="#000" stroke-width="1.10"/>
<line x1="388.7" y1="1255.8" x2="388.7" y2="1259.4" stroke="#000" stroke-width="1.10"/>
<line x1="401.1" y1="1255.8" x2="401.1" y2="1259.4" stroke="#000" stroke-width="1.10"/>
<line x1="409.9" y1="1255.8" x2="409.9" y2="1259.4" stroke="#000" stroke-width="1.10"/>
<line x1="416.7" y1="1255.8" x2="416.7" y2="1259.4" stroke="#000" stroke-width="1.10"/>
<line x1="422.3" y1="1255.8" x2="422.3" y2="1259.4" stroke="#000" stroke-width="1.10"/>
<line x1="427.1" y1="1255.8" x2="427.1" y2="1259.4" stroke="#000" stroke-width="1.10"/>
<line x1="431.2" y1="1255.8" x2="431.2" y2="1259.4" stroke="#000" stroke-width="1.10"/>
<line x1="434.8" y1="1255.8" x2="434.8" y2="1259.4" stroke="#000" stroke-width="1.10"/>
<line x1="457.9" y1="1255.8" x2="457.9" y2="1259.4" stroke="#000" stroke-width="1.10"/>
<line x1="469.5" y1="1255.8" x2="469.5" y2="1259.4" stroke="#000" stroke-width="1.10"/>
<line x1="477.7" y1="1255.8" x2="477.7" y2="1259.4" stroke="#000" stroke-width="1.10"/>
<line x1="484.1" y1="1255.8" x2="484.1" y2="1259.4" stroke="#000" stroke-width="1.10"/>
<line x1="489.4" y1="1255.8" x2="489.4" y2="1259.4" stroke="#000" stroke-width="1.10"/>
<line x1="493.8" y1="1255.8" x2="493.8" y2="1259.4" stroke="#000" stroke-width="1.10"/>
<line x1="497.6" y1="1255.8" x2="497.6" y2="1259.4" stroke="#000" stroke-width="1.10"/>
<line x1="501.0" y1="1255.8" x2="501.0" y2="1259.4" stroke="#000" stroke-width="1.10"/>
<line x1="524.3" y1="1255.8" x2="524.3" y2="1259.4" stroke="#000" stroke-width="1.10"/>
<line x1="536.1" y1="1255.8" x2="536.1" y2="1259.4" stroke="#000" stroke-width="1.10"/>
<line x1="544.5" y1="1255.8" x2="544.5" y2="1259.4" stroke="#000" stroke-width="1.10"/>
<line x1="551.0" y1="1255.8" x2="551.0" y2="1259.4" stroke="#000" stroke-width="1.10"/>
<line x1="556.4" y1="1255.8" x2="556.4" y2="1259.4" stroke="#000" stroke-width="1.10"/>
<line x1="560.9" y1="1255.8" x2="560.9" y2="1259.4" stroke="#000" stroke-width="1.10"/>
<line x1="564.8" y1="1255.8" x2="564.8" y2="1259.4" stroke="#000" stroke-width="1.10"/>
<line x1="568.2" y1="1255.8" x2="568.2" y2="1259.4" stroke="#000" stroke-width="1.10"/>
<line x1="591.6" y1="1255.8" x2="591.6" y2="1259.4" stroke="#000" stroke-width="1.10"/>
<line x1="172.6" y1="1255.8" x2="172.6" y2="1259.4" stroke="#000" stroke-width="1.10"/>
<line x1="157.8" y1="1255.8" x2="157.8" y2="1259.4" stroke="#000" stroke-width="1.10"/>
<line x1="147.3" y1="1255.8" x2="147.3" y2="1259.4" stroke="#000" stroke-width="1.10"/>
<line x1="139.2" y1="1255.8" x2="139.2" y2="1259.4" stroke="#000" stroke-width="1.10"/>
<line x1="132.6" y1="1255.8" x2="132.6" y2="1259.4" stroke="#000" stroke-width="1.10"/>
<line x1="127.0" y1="1255.8" x2="127.0" y2="1259.4" stroke="#000" stroke-width="1.10"/>
<line x1="122.1" y1="1255.8" x2="122.1" y2="1259.4" stroke="#000" stroke-width="1.10"/>
<line x1="117.8" y1="1255.8" x2="117.8" y2="1259.4" stroke="#000" stroke-width="1.10"/>
<line x1="246.9" y1="1255.8" x2="246.9" y2="1259.4" stroke="#000" stroke-width="1.10"/>
<line x1="252.2" y1="1255.8" x2="252.2" y2="1259.4" stroke="#000" stroke-width="1.10"/>
<line x1="257.3" y1="1255.8" x2="257.3" y2="1259.4" stroke="#000" stroke-width="1.10"/>
<line x1="262.0" y1="1255.8" x2="262.0" y2="1259.4" stroke="#000" stroke-width="1.10"/>
<line x1="266.4" y1="1255.8" x2="266.4" y2="1259.4" stroke="#000" stroke-width="1.10"/>
<line x1="270.4" y1="1255.8" x2="270.4" y2="1259.4" stroke="#000" stroke-width="1.10"/>
<line x1="274.1" y1="1255.8" x2="274.1" y2="1259.4" stroke="#000" stroke-width="1.10"/>
<line x1="277.5" y1="1255.8" x2="277.5" y2="1259.4" stroke="#000" stroke-width="1.10"/>
<line x1="280.7" y1="1255.8" x2="280.7" y2="1259.4" stroke="#000" stroke-width="1.10"/>
<line x1="235.9" y1="1255.8" x2="235.9" y2="1259.4" stroke="#000" stroke-width="1.10"/>
<line x1="230.4" y1="1255.8" x2="230.4" y2="1259.4" stroke="#000" stroke-width="1.10"/>
<line x1="225.1" y1="1255.8" x2="225.1" y2="1259.4" stroke="#000" stroke-width="1.10"/>
<line x1="220.2" y1="1255.8" x2="220.2" y2="1259.4" stroke="#000" stroke-width="1.10"/>
<line x1="215.7" y1="1255.8" x2="215.7" y2="1259.4" stroke="#000" stroke-width="1.10"/>
<line x1="211.5" y1="1255.8" x2="211.5" y2="1259.4" stroke="#000" stroke-width="1.10"/>
<line x1="207.6" y1="1255.8" x2="207.6" y2="1259.4" stroke="#000" stroke-width="1.10"/>
<line x1="204.1" y1="1255.8" x2="204.1" y2="1259.4" stroke="#000" stroke-width="1.10"/>
<line x1="200.8" y1="1255.8" x2="200.8" y2="1259.4" stroke="#000" stroke-width="1.10"/>
<line x1="114.0" y1="1255.8" x2="114.0" y2="1261.8" stroke="#000" stroke-width="2.00"/>
<line x1="197.8" y1="1255.8" x2="197.8" y2="1261.8" stroke="#000" stroke-width="2.00"/>
<line x1="283.6" y1="1255.8" x2="283.6" y2="1261.8" stroke="#000" stroke-width="2.00"/>
<line x1="367.4" y1="1255.8" x2="367.4" y2="1261.8" stroke="#000" stroke-width="2.00"/>
<line x1="438.0" y1="1255.8" x2="438.0" y2="1261.8" stroke="#000" stroke-width="2.00"/>
<line x1="504.0" y1="1255.8" x2="504.0" y2="1261.8" stroke="#000" stroke-width="2.00"/>
<line x1="571.3" y1="1255.8" x2="571.3" y2="1261.8" stroke="#000" stroke-width="2.00"/>
<rect x="236.1" y="1255.8" width="2.4" height="5.5" fill="#000"/>
<rect x="240.2" y="1255.8" width="2.4" height="5.5" fill="#000"/>
<rect x="243.8" y="1255.8" width="2.4" height="5.5" fill="#000"/>
<text x="117.0" y="1278.6" font-size="10.6" fill="#111" font-weight="normal" letter-spacing="0.0" font-family='"Liberation Serif", "DejaVu Serif", serif'>-10<tspan dx="0.6" dy="-6.1" font-size="10.0" font-weight="normal" fill="#333">4</tspan></text>
<text x="197.3" y="1278.6" font-size="10.6" fill="#111" font-weight="normal" letter-spacing="0.0" font-family='"Liberation Serif", "DejaVu Serif", serif'>-10<tspan dx="0.6" dy="-6.1" font-size="10.0" font-weight="normal" fill="#333">3</tspan></text>
<text x="243.8" y="1278.6" font-size="10.6" fill="#111" font-weight="normal" letter-spacing="0.0" font-family='"Liberation Serif", "DejaVu Serif", serif'>0</text>
<text x="283.6" y="1278.6" font-size="10.6" fill="#111" font-weight="normal" letter-spacing="0.0" font-family='"Liberation Serif", "DejaVu Serif", serif'>10<tspan dx="0.6" dy="-6.1" font-size="10.0" font-weight="normal" fill="#333">3</tspan></text>
<text x="367.4" y="1278.6" font-size="10.6" fill="#111" font-weight="normal" letter-spacing="0.0" font-family='"Liberation Serif", "DejaVu Serif", serif'>10<tspan dx="0.6" dy="-6.1" font-size="10.0" font-weight="normal" fill="#333">4</tspan></text>
<text x="438.0" y="1278.6" font-size="10.6" fill="#111" font-weight="normal" letter-spacing="0.0" font-family='"Liberation Serif", "DejaVu Serif", serif'>10<tspan dx="0.6" dy="-6.1" font-size="10.0" font-weight="normal" fill="#333">5</tspan></text>
<text x="504.0" y="1278.6" font-size="10.6" fill="#111" font-weight="normal" letter-spacing="0.0" font-family='"Liberation Serif", "DejaVu Serif", serif'>10<tspan dx="0.6" dy="-6.1" font-size="10.0" font-weight="normal" fill="#333">6</tspan></text>
<text x="571.3" y="1278.6" font-size="10.6" fill="#111" font-weight="normal" letter-spacing="0.0" font-family='"Liberation Serif", "DejaVu Serif", serif'>10<tspan dx="0.6" dy="-6.1" font-size="10.0" font-weight="normal" fill="#333">7</tspan></text>
</g>
<text x="262.8" y="707.5" font-size="30.50" font-weight="normal" fill="#000" text-anchor="start" textLength="95.0" lengthAdjust="spacingAndGlyphs"  stroke="#000" stroke-width="0.45">CD141</text>
<text x="360.0" y="695.9" font-size="21.35" font-weight="normal" fill="#000" text-anchor="start" textLength="10.3" lengthAdjust="spacingAndGlyphs"  stroke="#000" stroke-width="0.30">+</text>
<text x="380.2" y="707.5" font-size="30.50" font-weight="normal" fill="#000" text-anchor="start" textLength="95.0" lengthAdjust="spacingAndGlyphs"  stroke="#000" stroke-width="0.45">CD303</text>
<text x="476.7" y="695.9" font-size="21.35" font-weight="normal" fill="#000" text-anchor="start" textLength="6.0" lengthAdjust="spacingAndGlyphs"  stroke="#000" stroke-width="0.30">-</text>
<text x="339.8" y="752.5" font-size="30.50" font-weight="normal" fill="#000" text-anchor="start" textLength="74.0" lengthAdjust="spacingAndGlyphs"  stroke="#000" stroke-width="0.45">cDC1</text>
<g id="plot3">
<path d="M230.0 1636.4C231.6 1634.7 233.3 1637.0 236.0 1630.0C238.7 1623.0 237.9 1621.7 240.0 1610.0C242.1 1598.3 242.1 1596.1 244.0 1586.0C245.9 1575.9 245.7 1576.8 247.0 1572.0C248.3 1567.2 247.8 1568.5 249.0 1568.0C250.2 1567.5 249.9 1567.3 251.5 1570.0C253.1 1572.7 253.0 1571.1 255.0 1578.0C257.0 1584.9 256.3 1587.5 259.0 1596.0C261.7 1604.5 260.5 1603.3 265.0 1610.0C269.5 1616.7 269.3 1616.5 276.0 1621.0C282.7 1625.5 281.5 1624.6 290.0 1627.0C298.5 1629.4 296.8 1628.4 308.0 1630.0C319.2 1631.6 318.1 1631.5 332.0 1633.0C345.9 1634.5 348.8 1634.7 360.0 1635.6C371.2 1636.5 370.3 1636.2 374.0 1636.4 L374.0 1636.4 L230.0 1636.4 Z" fill="#e6e6e6" fill-opacity="1.00" stroke="none"/>
<path d="M230.0 1636.4C231.6 1634.7 233.3 1637.0 236.0 1630.0" fill="none" stroke="#787878" stroke-width="1.50" stroke-dasharray="12 14"/>
<path d="M236.0 1630.0C238.7 1623.0 237.9 1621.7 240.0 1610.0C242.1 1598.3 242.1 1596.1 244.0 1586.0C245.9 1575.9 245.7 1576.8 247.0 1572.0C248.3 1567.2 247.8 1568.5 249.0 1568.0C250.2 1567.5 249.9 1567.3 251.5 1570.0C253.1 1572.7 253.0 1571.1 255.0 1578.0C257.0 1584.9 256.3 1587.5 259.0 1596.0C261.7 1604.5 260.5 1603.3 265.0 1610.0C269.5 1616.7 269.3 1616.5 276.0 1621.0" fill="none" stroke="#787878" stroke-width="2.20" stroke-dasharray="7 5" stroke-linejoin="round"/>
<path d="M276.0 1621.0C282.7 1625.5 281.5 1624.6 290.0 1627.0C298.5 1629.4 296.8 1628.4 308.0 1630.0C319.2 1631.6 318.1 1631.5 332.0 1633.0C345.9 1634.5 348.8 1634.7 360.0 1635.6C371.2 1636.5 370.3 1636.2 374.0 1636.4" fill="none" stroke="#787878" stroke-width="1.50" stroke-dasharray="12 14"/>
<line x1="117.7" y1="1636.4" x2="135.0" y2="1636.4" stroke="#9a9a9a" stroke-width="2.40"/>
<line x1="154.8" y1="1636.4" x2="174.0" y2="1636.4" stroke="#9a9a9a" stroke-width="2.40"/>
<line x1="192.6" y1="1636.4" x2="212.0" y2="1636.4" stroke="#9a9a9a" stroke-width="2.40"/>
<line x1="230.7" y1="1636.4" x2="232.0" y2="1636.4" stroke="#9a9a9a" stroke-width="2.40"/>
<line x1="393.0" y1="1636.4" x2="411.0" y2="1636.4" stroke="#9a9a9a" stroke-width="2.40"/>
<line x1="431.0" y1="1636.4" x2="450.0" y2="1636.4" stroke="#9a9a9a" stroke-width="2.40"/>
<line x1="469.0" y1="1636.4" x2="488.0" y2="1636.4" stroke="#9a9a9a" stroke-width="2.40"/>
<line x1="506.5" y1="1636.4" x2="525.8" y2="1636.4" stroke="#9a9a9a" stroke-width="2.40"/>
<line x1="544.5" y1="1636.4" x2="563.6" y2="1636.4" stroke="#9a9a9a" stroke-width="2.40"/>
<line x1="582.0" y1="1636.4" x2="601.0" y2="1636.4" stroke="#9a9a9a" stroke-width="2.40"/>
<path d="M227.0 1732.4C228.6 1730.7 230.1 1732.5 233.0 1726.0C235.9 1719.5 235.3 1718.7 238.0 1708.0C240.7 1697.3 240.9 1693.7 243.0 1686.0C245.1 1678.3 244.4 1681.4 246.0 1679.0C247.6 1676.6 247.7 1677.0 249.0 1677.0C250.3 1677.0 249.7 1676.6 251.0 1679.0C252.3 1681.4 251.6 1678.8 254.0 1686.0C256.4 1693.2 256.3 1698.0 260.0 1706.0C263.7 1714.0 263.7 1712.0 268.0 1716.0C272.3 1720.0 271.2 1718.6 276.0 1721.0C280.8 1723.4 280.7 1725.0 286.0 1725.0C291.3 1725.0 290.1 1724.5 296.0 1721.0C301.9 1717.5 302.1 1716.0 308.0 1712.0C313.9 1708.0 313.2 1709.2 318.0 1706.0C322.8 1702.8 321.7 1705.3 326.0 1700.0C330.3 1694.7 330.3 1693.5 334.0 1686.0C337.7 1678.5 336.3 1678.1 340.0 1672.0C343.7 1665.9 344.3 1670.5 348.0 1663.0C351.7 1655.5 351.1 1650.1 354.0 1644.0C356.9 1637.9 356.3 1640.3 359.0 1640.0C361.7 1639.7 360.8 1641.4 364.0 1643.0C367.2 1644.6 367.3 1642.8 371.0 1646.0C374.7 1649.2 374.5 1648.9 378.0 1655.0C381.5 1661.1 380.8 1662.1 384.0 1669.0C387.2 1675.9 386.3 1677.8 390.0 1681.0C393.7 1684.2 394.3 1681.4 398.0 1681.0C401.7 1680.6 400.8 1678.9 404.0 1679.4C407.2 1679.9 406.5 1679.1 410.0 1683.0C413.5 1686.9 413.8 1687.3 417.0 1694.0C420.2 1700.7 419.1 1701.1 422.0 1708.0C424.9 1714.9 424.8 1714.9 428.0 1720.0C431.2 1725.1 429.7 1724.2 434.0 1727.0C438.3 1729.8 434.9 1729.3 444.0 1730.4C453.1 1731.5 460.8 1730.5 468.0 1731.0C475.2 1731.5 470.2 1732.0 471.0 1732.4 L471.0 1732.4 L227.0 1732.4 Z" fill="#808080" fill-opacity="0.42" stroke="none"/>
<path d="M117.0 1732.4 L601.2 1732.4" fill="none" stroke="#909090" stroke-width="1.40"/>
<path d="M227.0 1732.4C228.6 1730.7 230.1 1732.5 233.0 1726.0C235.9 1719.5 235.3 1718.7 238.0 1708.0C240.7 1697.3 240.9 1693.7 243.0 1686.0C245.1 1678.3 244.4 1681.4 246.0 1679.0C247.6 1676.6 247.7 1677.0 249.0 1677.0C250.3 1677.0 249.7 1676.6 251.0 1679.0C252.3 1681.4 251.6 1678.8 254.0 1686.0C256.4 1693.2 256.3 1698.0 260.0 1706.0C263.7 1714.0 263.7 1712.0 268.0 1716.0C272.3 1720.0 271.2 1718.6 276.0 1721.0C280.8 1723.4 280.7 1725.0 286.0 1725.0C291.3 1725.0 290.1 1724.5 296.0 1721.0C301.9 1717.5 302.1 1716.0 308.0 1712.0C313.9 1708.0 313.2 1709.2 318.0 1706.0C322.8 1702.8 321.7 1705.3 326.0 1700.0C330.3 1694.7 330.3 1693.5 334.0 1686.0C337.7 1678.5 336.3 1678.1 340.0 1672.0C343.7 1665.9 344.3 1670.5 348.0 1663.0C351.7 1655.5 351.1 1650.1 354.0 1644.0C356.9 1637.9 356.3 1640.3 359.0 1640.0C361.7 1639.7 360.8 1641.4 364.0 1643.0C367.2 1644.6 367.3 1642.8 371.0 1646.0C374.7 1649.2 374.5 1648.9 378.0 1655.0C381.5 1661.1 380.8 1662.1 384.0 1669.0C387.2 1675.9 386.3 1677.8 390.0 1681.0C393.7 1684.2 394.3 1681.4 398.0 1681.0C401.7 1680.6 400.8 1678.9 404.0 1679.4C407.2 1679.9 406.5 1679.1 410.0 1683.0C413.5 1686.9 413.8 1687.3 417.0 1694.0C420.2 1700.7 419.1 1701.1 422.0 1708.0C424.9 1714.9 424.8 1714.9 428.0 1720.0C431.2 1725.1 429.7 1724.2 434.0 1727.0C438.3 1729.8 434.9 1729.3 444.0 1730.4C453.1 1731.5 460.8 1730.5 468.0 1731.0C475.2 1731.5 470.2 1732.0 471.0 1732.4" fill="none" stroke="#828282" stroke-width="1.80" stroke-linejoin="round"/>
<path d="M238.0 1829.4C239.3 1828.5 240.6 1829.6 243.0 1826.0C245.4 1822.4 245.1 1825.6 247.0 1816.0C248.9 1806.4 248.8 1804.9 250.0 1790.0C251.2 1775.1 250.8 1776.0 251.6 1760.0C252.4 1744.0 252.1 1746.0 253.0 1730.0C253.9 1714.0 253.9 1714.4 255.0 1700.0C256.1 1685.6 255.7 1676.0 257.0 1676.0C258.3 1676.0 258.4 1685.6 260.0 1700.0C261.6 1714.4 261.4 1714.0 263.0 1730.0C264.6 1746.0 264.4 1744.0 266.0 1760.0C267.6 1776.0 266.9 1776.1 269.0 1790.0C271.1 1803.9 270.0 1803.5 274.0 1812.0C278.0 1820.5 278.7 1818.0 284.0 1822.0C289.3 1826.0 287.6 1825.5 294.0 1827.0C300.4 1828.5 301.1 1827.0 308.0 1827.6C314.9 1828.2 316.8 1828.9 320.0 1829.4 L320.0 1829.4 L238.0 1829.4 Z" fill="#6a9fdc" fill-opacity="0.34" stroke="none"/>
<path d="M238.0 1829.4C239.3 1828.5 240.6 1829.6 243.0 1826.0C245.4 1822.4 245.1 1825.6 247.0 1816.0" fill="none" stroke="#1a73d9" stroke-width="1.50" stroke-dasharray="9 9"/>
<path d="M247.0 1816.0C248.9 1806.4 248.8 1804.9 250.0 1790.0C251.2 1775.1 250.8 1776.0 251.6 1760.0C252.4 1744.0 252.1 1746.0 253.0 1730.0C253.9 1714.0 253.9 1714.4 255.0 1700.0C256.1 1685.6 255.7 1676.0 257.0 1676.0C258.3 1676.0 258.4 1685.6 260.0 1700.0C261.6 1714.4 261.4 1714.0 263.0 1730.0C264.6 1746.0 264.4 1744.0 266.0 1760.0C267.6 1776.0 266.9 1776.1 269.0 1790.0C271.1 1803.9 270.0 1803.5 274.0 1812.0" fill="none" stroke="#1a73d9" stroke-width="3.00" stroke-dasharray="5.5 5" stroke-linejoin="round"/>
<path d="M274.0 1812.0C278.0 1820.5 278.7 1818.0 284.0 1822.0C289.3 1826.0 287.6 1825.5 294.0 1827.0C300.4 1828.5 301.1 1827.0 308.0 1827.6C314.9 1828.2 316.8 1828.9 320.0 1829.4" fill="none" stroke="#1a73d9" stroke-width="1.50" stroke-dasharray="9 9"/>
<line x1="117.7" y1="1829.4" x2="135.0" y2="1829.4" stroke="#3d8ae0" stroke-width="0.90"/>
<line x1="154.8" y1="1829.4" x2="174.0" y2="1829.4" stroke="#3d8ae0" stroke-width="0.90"/>
<line x1="192.6" y1="1829.4" x2="212.0" y2="1829.4" stroke="#3d8ae0" stroke-width="0.90"/>
<line x1="230.7" y1="1829.4" x2="239.0" y2="1829.4" stroke="#3d8ae0" stroke-width="0.90"/>
<line x1="343.5" y1="1829.4" x2="361.8" y2="1829.4" stroke="#3d8ae0" stroke-width="0.90"/>
<line x1="381.0" y1="1829.4" x2="400.0" y2="1829.4" stroke="#3d8ae0" stroke-width="0.90"/>
<line x1="419.5" y1="1829.4" x2="438.5" y2="1829.4" stroke="#3d8ae0" stroke-width="0.90"/>
<line x1="457.0" y1="1829.4" x2="476.0" y2="1829.4" stroke="#3d8ae0" stroke-width="0.90"/>
<line x1="495.0" y1="1829.4" x2="514.0" y2="1829.4" stroke="#3d8ae0" stroke-width="0.90"/>
<line x1="533.0" y1="1829.4" x2="551.6" y2="1829.4" stroke="#3d8ae0" stroke-width="0.90"/>
<line x1="570.7" y1="1829.4" x2="589.4" y2="1829.4" stroke="#3d8ae0" stroke-width="0.90"/>
<path d="M228.0 1926.0C228.5 1924.9 227.9 1926.8 230.0 1922.0C232.1 1917.2 232.8 1917.1 236.0 1908.0C239.2 1898.9 239.3 1895.7 242.0 1888.0C244.7 1880.3 244.4 1881.9 246.0 1879.0C247.6 1876.1 246.4 1877.3 248.0 1877.0C249.6 1876.7 249.3 1872.9 252.0 1878.0C254.7 1883.1 254.8 1887.5 258.0 1896.0C261.2 1904.5 260.8 1904.5 264.0 1910.0C267.2 1915.5 264.7 1914.8 270.0 1916.6C275.3 1918.4 277.1 1917.7 284.0 1916.6C290.9 1915.5 289.6 1914.2 296.0 1912.4C302.4 1910.6 301.6 1913.0 308.0 1910.0C314.4 1907.0 314.1 1904.3 320.0 1901.0C325.9 1897.7 324.1 1899.5 330.0 1897.6C335.9 1895.7 337.2 1897.1 342.0 1894.0C346.8 1890.9 344.8 1891.3 348.0 1886.0C351.2 1880.7 351.1 1878.2 354.0 1874.0C356.9 1869.8 356.3 1870.4 359.0 1870.4C361.7 1870.4 360.5 1869.8 364.0 1874.0C367.5 1878.2 367.2 1880.1 372.0 1886.0C376.8 1891.9 376.7 1890.1 382.0 1896.0C387.3 1901.9 387.2 1903.7 392.0 1908.0C396.8 1912.3 393.6 1910.8 400.0 1912.0C406.4 1913.2 409.1 1911.3 416.0 1912.4C422.9 1913.5 420.1 1914.5 426.0 1916.0C431.9 1917.5 432.7 1916.4 438.0 1918.0C443.3 1919.6 441.7 1919.9 446.0 1922.0C450.3 1924.1 451.9 1924.9 454.0 1926.0 L454.0 1926.0 L228.0 1926.0 Z" fill="#2f86e0" fill-opacity="0.50" stroke="none"/>
<path d="M117.0 1926.0 L601.2 1926.0" fill="none" stroke="#6aa8ea" stroke-width="1.20"/>
<path d="M228.0 1926.0C228.5 1924.9 227.9 1926.8 230.0 1922.0C232.1 1917.2 232.8 1917.1 236.0 1908.0C239.2 1898.9 239.3 1895.7 242.0 1888.0C244.7 1880.3 244.4 1881.9 246.0 1879.0C247.6 1876.1 246.4 1877.3 248.0 1877.0C249.6 1876.7 249.3 1872.9 252.0 1878.0C254.7 1883.1 254.8 1887.5 258.0 1896.0C261.2 1904.5 260.8 1904.5 264.0 1910.0C267.2 1915.5 264.7 1914.8 270.0 1916.6C275.3 1918.4 277.1 1917.7 284.0 1916.6C290.9 1915.5 289.6 1914.2 296.0 1912.4C302.4 1910.6 301.6 1913.0 308.0 1910.0C314.4 1907.0 314.1 1904.3 320.0 1901.0C325.9 1897.7 324.1 1899.5 330.0 1897.6C335.9 1895.7 337.2 1897.1 342.0 1894.0C346.8 1890.9 344.8 1891.3 348.0 1886.0C351.2 1880.7 351.1 1878.2 354.0 1874.0C356.9 1869.8 356.3 1870.4 359.0 1870.4C361.7 1870.4 360.5 1869.8 364.0 1874.0C367.5 1878.2 367.2 1880.1 372.0 1886.0C376.8 1891.9 376.7 1890.1 382.0 1896.0C387.3 1901.9 387.2 1903.7 392.0 1908.0C396.8 1912.3 393.6 1910.8 400.0 1912.0C406.4 1913.2 409.1 1911.3 416.0 1912.4C422.9 1913.5 420.1 1914.5 426.0 1916.0C431.9 1917.5 432.7 1916.4 438.0 1918.0C443.3 1919.6 441.7 1919.9 446.0 1922.0C450.3 1924.1 451.9 1924.9 454.0 1926.0" fill="none" stroke="#1a73d9" stroke-width="1.60" stroke-linejoin="round"/>
<rect x="117.0" y="1438.0" width="484.2" height="484.0" fill="none" stroke="#000" stroke-width="2.1"/>
<line x1="311.6" y1="1922.0" x2="311.6" y2="1928.5" stroke="#000" stroke-width="1.70"/>
<line x1="326.3" y1="1922.0" x2="326.3" y2="1928.5" stroke="#000" stroke-width="1.70"/>
<line x1="336.8" y1="1922.0" x2="336.8" y2="1928.5" stroke="#000" stroke-width="1.70"/>
<line x1="344.9" y1="1922.0" x2="344.9" y2="1928.5" stroke="#000" stroke-width="1.70"/>
<line x1="351.5" y1="1922.0" x2="351.5" y2="1928.5" stroke="#000" stroke-width="1.70"/>
<line x1="357.1" y1="1922.0" x2="357.1" y2="1928.5" stroke="#000" stroke-width="1.70"/>
<line x1="361.9" y1="1922.0" x2="361.9" y2="1928.5" stroke="#000" stroke-width="1.70"/>
<line x1="366.2" y1="1922.0" x2="366.2" y2="1928.5" stroke="#000" stroke-width="1.70"/>
<line x1="390.3" y1="1922.0" x2="390.3" y2="1928.5" stroke="#000" stroke-width="1.70"/>
<line x1="402.2" y1="1922.0" x2="402.2" y2="1928.5" stroke="#000" stroke-width="1.70"/>
<line x1="410.6" y1="1922.0" x2="410.6" y2="1928.5" stroke="#000" stroke-width="1.70"/>
<line x1="417.2" y1="1922.0" x2="417.2" y2="1928.5" stroke="#000" stroke-width="1.70"/>
<line x1="422.5" y1="1922.0" x2="422.5" y2="1928.5" stroke="#000" stroke-width="1.70"/>
<line x1="427.0" y1="1922.0" x2="427.0" y2="1928.5" stroke="#000" stroke-width="1.70"/>
<line x1="431.0" y1="1922.0" x2="431.0" y2="1928.5" stroke="#000" stroke-width="1.70"/>
<line x1="434.4" y1="1922.0" x2="434.4" y2="1928.5" stroke="#000" stroke-width="1.70"/>
<line x1="457.8" y1="1922.0" x2="457.8" y2="1928.5" stroke="#000" stroke-width="1.70"/>
<line x1="469.7" y1="1922.0" x2="469.7" y2="1928.5" stroke="#000" stroke-width="1.70"/>
<line x1="478.1" y1="1922.0" x2="478.1" y2="1928.5" stroke="#000" stroke-width="1.70"/>
<line x1="484.7" y1="1922.0" x2="484.7" y2="1928.5" stroke="#000" stroke-width="1.70"/>
<line x1="490.0" y1="1922.0" x2="490.0" y2="1928.5" stroke="#000" stroke-width="1.70"/>
<line x1="494.5" y1="1922.0" x2="494.5" y2="1928.5" stroke="#000" stroke-width="1.70"/>
<line x1="498.5" y1="1922.0" x2="498.5" y2="1928.5" stroke="#000" stroke-width="1.70"/>
<line x1="501.9" y1="1922.0" x2="501.9" y2="1928.5" stroke="#000" stroke-width="1.70"/>
<line x1="524.6" y1="1922.0" x2="524.6" y2="1928.5" stroke="#000" stroke-width="1.70"/>
<line x1="536.0" y1="1922.0" x2="536.0" y2="1928.5" stroke="#000" stroke-width="1.70"/>
<line x1="544.1" y1="1922.0" x2="544.1" y2="1928.5" stroke="#000" stroke-width="1.70"/>
<line x1="550.4" y1="1922.0" x2="550.4" y2="1928.5" stroke="#000" stroke-width="1.70"/>
<line x1="555.6" y1="1922.0" x2="555.6" y2="1928.5" stroke="#000" stroke-width="1.70"/>
<line x1="559.9" y1="1922.0" x2="559.9" y2="1928.5" stroke="#000" stroke-width="1.70"/>
<line x1="563.7" y1="1922.0" x2="563.7" y2="1928.5" stroke="#000" stroke-width="1.70"/>
<line x1="567.0" y1="1922.0" x2="567.0" y2="1928.5" stroke="#000" stroke-width="1.70"/>
<line x1="589.6" y1="1922.0" x2="589.6" y2="1928.5" stroke="#000" stroke-width="1.70"/>
<line x1="177.8" y1="1922.0" x2="177.8" y2="1928.5" stroke="#000" stroke-width="1.70"/>
<line x1="163.1" y1="1922.0" x2="163.1" y2="1928.5" stroke="#000" stroke-width="1.70"/>
<line x1="152.7" y1="1922.0" x2="152.7" y2="1928.5" stroke="#000" stroke-width="1.70"/>
<line x1="144.6" y1="1922.0" x2="144.6" y2="1928.5" stroke="#000" stroke-width="1.70"/>
<line x1="137.9" y1="1922.0" x2="137.9" y2="1928.5" stroke="#000" stroke-width="1.70"/>
<line x1="132.3" y1="1922.0" x2="132.3" y2="1928.5" stroke="#000" stroke-width="1.70"/>
<line x1="127.5" y1="1922.0" x2="127.5" y2="1928.5" stroke="#000" stroke-width="1.70"/>
<line x1="123.2" y1="1922.0" x2="123.2" y2="1928.5" stroke="#000" stroke-width="1.70"/>
<line x1="250.4" y1="1922.0" x2="250.4" y2="1928.5" stroke="#000" stroke-width="1.70"/>
<line x1="255.6" y1="1922.0" x2="255.6" y2="1928.5" stroke="#000" stroke-width="1.70"/>
<line x1="260.6" y1="1922.0" x2="260.6" y2="1928.5" stroke="#000" stroke-width="1.70"/>
<line x1="265.2" y1="1922.0" x2="265.2" y2="1928.5" stroke="#000" stroke-width="1.70"/>
<line x1="269.5" y1="1922.0" x2="269.5" y2="1928.5" stroke="#000" stroke-width="1.70"/>
<line x1="273.5" y1="1922.0" x2="273.5" y2="1928.5" stroke="#000" stroke-width="1.70"/>
<line x1="277.1" y1="1922.0" x2="277.1" y2="1928.5" stroke="#000" stroke-width="1.70"/>
<line x1="280.5" y1="1922.0" x2="280.5" y2="1928.5" stroke="#000" stroke-width="1.70"/>
<line x1="283.6" y1="1922.0" x2="283.6" y2="1928.5" stroke="#000" stroke-width="1.70"/>
<line x1="239.6" y1="1922.0" x2="239.6" y2="1928.5" stroke="#000" stroke-width="1.70"/>
<line x1="234.3" y1="1922.0" x2="234.3" y2="1928.5" stroke="#000" stroke-width="1.70"/>
<line x1="229.3" y1="1922.0" x2="229.3" y2="1928.5" stroke="#000" stroke-width="1.70"/>
<line x1="224.5" y1="1922.0" x2="224.5" y2="1928.5" stroke="#000" stroke-width="1.70"/>
<line x1="220.2" y1="1922.0" x2="220.2" y2="1928.5" stroke="#000" stroke-width="1.70"/>
<line x1="216.2" y1="1922.0" x2="216.2" y2="1928.5" stroke="#000" stroke-width="1.70"/>
<line x1="212.5" y1="1922.0" x2="212.5" y2="1928.5" stroke="#000" stroke-width="1.70"/>
<line x1="209.1" y1="1922.0" x2="209.1" y2="1928.5" stroke="#000" stroke-width="1.70"/>
<line x1="205.9" y1="1922.0" x2="205.9" y2="1928.5" stroke="#000" stroke-width="1.70"/>
<line x1="119.4" y1="1922.0" x2="119.4" y2="1934.5" stroke="#000" stroke-width="4.00"/>
<line x1="203.0" y1="1922.0" x2="203.0" y2="1934.5" stroke="#000" stroke-width="4.00"/>
<line x1="286.5" y1="1922.0" x2="286.5" y2="1934.5" stroke="#000" stroke-width="4.00"/>
<line x1="370.0" y1="1922.0" x2="370.0" y2="1934.5" stroke="#000" stroke-width="4.00"/>
<line x1="437.5" y1="1922.0" x2="437.5" y2="1934.5" stroke="#000" stroke-width="4.00"/>
<line x1="505.0" y1="1922.0" x2="505.0" y2="1934.5" stroke="#000" stroke-width="4.00"/>
<line x1="570.0" y1="1922.0" x2="570.0" y2="1934.5" stroke="#000" stroke-width="4.00"/>
<rect x="238" y="1922.0" width="4" height="12" fill="#000"/>
<rect x="243.5" y="1922.0" width="6.5" height="12" fill="#000"/>
<text x="126.5" y="1962.0" font-size="16" letter-spacing="0.3" fill="#1a1a1a" font-family='"DejaVu Sans", sans-serif'>-10<tspan dx="0.3" dy="-11" font-size="15.5">4</tspan></text>
<text x="250.0" y="1962.0" font-size="16" letter-spacing="0.3" fill="#1a1a1a" font-family='"DejaVu Sans", sans-serif'>0</text>
<text x="369.0" y="1962.0" font-size="16" letter-spacing="0.3" fill="#1a1a1a" font-family='"DejaVu Sans", sans-serif'>10<tspan dx="0.3" dy="-11" font-size="15.5">4</tspan></text>
<text x="505.5" y="1962.0" font-size="16" letter-spacing="0.3" fill="#1a1a1a" font-family='"DejaVu Sans", sans-serif'>10<tspan dx="0.3" dy="-11" font-size="15.5">6</tspan></text>
</g>
<text x="266.5" y="1372.0" font-size="30.50" font-weight="normal" fill="#000" text-anchor="start" textLength="76.5" lengthAdjust="spacingAndGlyphs"  stroke="#000" stroke-width="0.45">CD14</text>
<text x="345.0" y="1360.4" font-size="21.35" font-weight="normal" fill="#000" text-anchor="start" textLength="35.0" lengthAdjust="spacingAndGlyphs"  stroke="#000" stroke-width="0.30">dim</text>
<text x="390.5" y="1372.0" font-size="30.50" font-weight="normal" fill="#000" text-anchor="start" textLength="78.0" lengthAdjust="spacingAndGlyphs"  stroke="#000" stroke-width="0.45">CD16</text>
<text x="470.3" y="1360.4" font-size="21.35" font-weight="normal" fill="#000" text-anchor="start" textLength="9.7" lengthAdjust="spacingAndGlyphs"  stroke="#000" stroke-width="0.30">+</text>
<text x="293.0" y="1417.0" font-size="30.50" font-weight="normal" fill="#000" text-anchor="start" textLength="161.5" lengthAdjust="spacingAndGlyphs"  stroke="#000" stroke-width="0.45">monocytes</text>
</g>
<g id="panelB">
<text x="646.0" y="28.0" font-size="41.00" font-weight="bold" fill="#222" text-anchor="start" textLength="34.8" lengthAdjust="spacingAndGlyphs" >b.</text>
<line x1="686.4" y1="142" x2="686.4" y2="1655.2" stroke="#000" stroke-width="1.7"/>
<polygon points="686.4,113.6 673.9,143.6 698.9,143.6" fill="#000"/>
<text transform="translate(675.8,1808) rotate(-90)" font-size="32.3" font-weight="bold" fill="#000" text-anchor="middle">Internalized bead</text>
<text transform="translate(716.8,1807.5) rotate(-90)" font-size="32.4" font-weight="bold" fill="#000" text-anchor="middle">fluorescence (MFI)</text>
<circle cx="1348" cy="76" r="8.7" fill="none" stroke="#000" stroke-width="4.5"/>
<circle cx="1348" cy="136.7" r="8.7" fill="none" stroke="#2474a3" stroke-width="4.5"/>
<text x="1397.0" y="89.6" font-size="37.00" font-weight="normal" fill="#000" text-anchor="start" >Young</text>
<text x="1397.0" y="150.4" font-size="37.00" font-weight="normal" fill="#000" text-anchor="start" >Old</text>
<text x="1020.5" y="62.7" font-size="31.30" font-weight="normal" fill="#000" text-anchor="start" textLength="75.0" lengthAdjust="spacingAndGlyphs"  stroke="#000" stroke-width="0.45">cDC2</text>
<line x1="989.0" y1="132.7" x2="1185.8" y2="132.7" stroke="#000" stroke-width="1.8"/>
<text x="1087.5" y="133.3" font-size="56.00" font-weight="bold" fill="#000" text-anchor="middle" textLength="90.0" lengthAdjust="spacingAndGlyphs" >****</text>
<line x1="905.0" y1="194.5" x2="1101.0" y2="194.5" stroke="#000" stroke-width="1.8"/>
<text x="1003.0" y="195.3" font-size="56.00" font-weight="bold" fill="#000" text-anchor="middle" textLength="90.0" lengthAdjust="spacingAndGlyphs" >****</text>
<path d="M884.75 589.00 V455.25 H929.25 V589.00" fill="#9b9b9b" stroke="#000" stroke-width="5.5"/>
<path d="M959.75 589.00 V462.00 H1004.25 V589.00" fill="#8fb1cb" stroke="#06303f" stroke-width="5.5"/>
<path d="M1084.75 589.00 V310.75 H1129.75 V589.00" fill="#9b9b9b" stroke="#000" stroke-width="5.5"/>
<path d="M1159.75 589.00 V329.00 H1205.25 V589.00" fill="#8fb1cb" stroke="#06303f" stroke-width="5.5"/>
<path d="M893.8 435.5 H920.2 M893.8 469.5 H920.2 M907.0 435.5 V469.5" stroke="#000" stroke-width="1.6" fill="none"/>
<path d="M968.8 436.2 H995.2 M968.8 482.2 H995.2 M982.0 436.2 V482.2" stroke="#266c9c" stroke-width="1.6" fill="none"/>
<path d="M1093.8 288.8 H1120.2 M1093.8 327.5 H1120.2 M1107.0 288.8 V327.5" stroke="#000" stroke-width="1.6" fill="none"/>
<path d="M1168.8 307.5 H1195.2 M1168.8 345.0 H1195.2 M1182.0 307.5 V345.0" stroke="#266c9c" stroke-width="1.6" fill="none"/>
<line x1="856.8" y1="211.4" x2="856.8" y2="590.8" stroke="#000" stroke-width="3.6"/>
<line x1="841.0" y1="589.0" x2="1232.5" y2="589.0" stroke="#000" stroke-width="3.6"/>
<line x1="841.0" y1="213.2" x2="856.8" y2="213.2" stroke="#000" stroke-width="3.6"/>
<text x="834.8" y="222.4" font-size="28.60" font-weight="bold" fill="#000" text-anchor="end" >40000</text>
<line x1="841.0" y1="307.1" x2="856.8" y2="307.1" stroke="#000" stroke-width="3.6"/>
<text x="834.8" y="316.3" font-size="28.60" font-weight="bold" fill="#000" text-anchor="end" >30000</text>
<line x1="841.0" y1="401.1" x2="856.8" y2="401.1" stroke="#000" stroke-width="3.6"/>
<text x="834.8" y="410.3" font-size="28.60" font-weight="bold" fill="#000" text-anchor="end" >20000</text>
<line x1="841.0" y1="495.1" x2="856.8" y2="495.1" stroke="#000" stroke-width="3.6"/>
<text x="834.8" y="504.2" font-size="28.60" font-weight="bold" fill="#000" text-anchor="end" >10000</text>
<text x="834.8" y="598.2" font-size="28.60" font-weight="bold" fill="#000" text-anchor="end" >0</text>
<line x1="944.5" y1="589.0" x2="944.5" y2="605.0" stroke="#000" stroke-width="3.6"/>
<line x1="1145.0" y1="589.0" x2="1145.0" y2="605.0" stroke="#000" stroke-width="3.6"/>
<text x="940.7" y="636.5" font-size="28.50" font-weight="bold" fill="#000" text-anchor="middle" textLength="95.6" lengthAdjust="spacingAndGlyphs" >Unstim</text>
<text x="1144.7" y="636.5" font-size="28.50" font-weight="bold" fill="#000" text-anchor="middle" textLength="230.2" lengthAdjust="spacingAndGlyphs" >Activated (eLNP)</text>
<circle cx="907.0" cy="446.3" r="8.1" fill="none" stroke="#000" stroke-width="3.0"/>
<circle cx="907.0" cy="470.5" r="8.1" fill="none" stroke="#000" stroke-width="3.0"/>
<circle cx="898.8" cy="475.0" r="8.1" fill="none" stroke="#000" stroke-width="3.0"/>
<circle cx="915.5" cy="475.0" r="8.1" fill="none" stroke="#000" stroke-width="3.0"/>
<circle cx="888.8" cy="488.8" r="8.1" fill="none" stroke="#000" stroke-width="3.0"/>
<circle cx="907.0" cy="488.0" r="8.1" fill="none" stroke="#000" stroke-width="3.0"/>
<circle cx="925.0" cy="489.5" r="8.1" fill="none" stroke="#000" stroke-width="3.0"/>
<circle cx="902.5" cy="369.3" r="8.1" fill="none" stroke="#000" stroke-width="3.0"/>
<circle cx="911.8" cy="365.0" r="8.1" fill="none" stroke="#000" stroke-width="3.0"/>
<circle cx="973.8" cy="422.0" r="8.1" fill="none" stroke="#266c9c" stroke-width="3.0"/>
<circle cx="990.5" cy="416.2" r="8.1" fill="none" stroke="#266c9c" stroke-width="3.0"/>
<circle cx="999.5" cy="455.5" r="8.1" fill="none" stroke="#266c9c" stroke-width="3.0"/>
<circle cx="982.0" cy="469.5" r="8.1" fill="none" stroke="#266c9c" stroke-width="3.0"/>
<circle cx="964.2" cy="477.5" r="8.1" fill="none" stroke="#266c9c" stroke-width="3.0"/>
<circle cx="999.5" cy="478.0" r="8.1" fill="none" stroke="#266c9c" stroke-width="3.0"/>
<circle cx="982.0" cy="489.2" r="8.1" fill="none" stroke="#266c9c" stroke-width="3.0"/>
<circle cx="982.0" cy="588.8" r="8.1" fill="none" stroke="#266c9c" stroke-width="3.0"/>
<circle cx="982.0" cy="332.0" r="8.1" fill="none" stroke="#266c9c" stroke-width="3.0"/>
<circle cx="1089.5" cy="235.8" r="8.1" fill="none" stroke="#000" stroke-width="3.0"/>
<circle cx="1107.0" cy="236.8" r="8.1" fill="none" stroke="#000" stroke-width="3.0"/>
<circle cx="1089.5" cy="291.3" r="8.1" fill="none" stroke="#000" stroke-width="3.0"/>
<circle cx="1107.0" cy="285.0" r="8.1" fill="none" stroke="#000" stroke-width="3.0"/>
<circle cx="1124.5" cy="289.5" r="8.1" fill="none" stroke="#000" stroke-width="3.0"/>
<circle cx="1107.0" cy="313.8" r="8.1" fill="none" stroke="#000" stroke-width="3.0"/>
<circle cx="1107.0" cy="330.0" r="8.1" fill="none" stroke="#000" stroke-width="3.0"/>
<circle cx="1115.5" cy="386.3" r="8.1" fill="none" stroke="#000" stroke-width="3.0"/>
<circle cx="1097.5" cy="401.2" r="8.1" fill="none" stroke="#000" stroke-width="3.0"/>
<circle cx="1182.0" cy="233.8" r="8.1" fill="none" stroke="#266c9c" stroke-width="3.0"/>
<circle cx="1176.3" cy="284.5" r="8.1" fill="none" stroke="#266c9c" stroke-width="3.0"/>
<circle cx="1200.0" cy="293.3" r="8.1" fill="none" stroke="#266c9c" stroke-width="3.0"/>
<circle cx="1187.5" cy="298.0" r="8.1" fill="none" stroke="#266c9c" stroke-width="3.0"/>
<circle cx="1176.3" cy="302.5" r="8.1" fill="none" stroke="#266c9c" stroke-width="3.0"/>
<circle cx="1164.5" cy="370.5" r="8.1" fill="none" stroke="#266c9c" stroke-width="3.0"/>
<circle cx="1164.5" cy="385.0" r="8.1" fill="none" stroke="#266c9c" stroke-width="3.0"/>
<circle cx="1187.5" cy="384.5" r="8.1" fill="none" stroke="#266c9c" stroke-width="3.0"/>
<circle cx="1200.0" cy="383.8" r="8.1" fill="none" stroke="#266c9c" stroke-width="3.0"/>
<text x="1020.5" y="731.2" font-size="31.30" font-weight="normal" fill="#000" text-anchor="start" textLength="75.0" lengthAdjust="spacingAndGlyphs"  stroke="#000" stroke-width="0.45">cDC1</text>
<line x1="988.2" y1="806.2" x2="1189.2" y2="806.2" stroke="#000" stroke-width="1.8"/>
<text x="1089.0" y="806.8" font-size="56.00" font-weight="bold" fill="#000" text-anchor="middle" textLength="90.0" lengthAdjust="spacingAndGlyphs" >****</text>
<line x1="907.0" y1="878.0" x2="1107.5" y2="878.0" stroke="#000" stroke-width="1.8"/>
<text x="1008.0" y="878.8" font-size="56.00" font-weight="bold" fill="#000" text-anchor="middle" textLength="90.0" lengthAdjust="spacingAndGlyphs" >****</text>
<line x1="907.0" y1="981.2" x2="999.5" y2="981.2" stroke="#000" stroke-width="1.8"/>
<text x="954.0" y="981.8" font-size="56.00" font-weight="bold" fill="#000" text-anchor="middle" textLength="22.4" lengthAdjust="spacingAndGlyphs" >*</text>
<path d="M884.75 1230.50 V1207.25 H929.25 V1230.50" fill="#9b9b9b" stroke="#000" stroke-width="5.5"/>
<path d="M959.75 1230.50 V1193.25 H1004.25 V1230.50" fill="#8fb1cb" stroke="#06303f" stroke-width="5.5"/>
<path d="M1085.25 1230.50 V1035.75 H1130.25 V1230.50" fill="#9b9b9b" stroke="#000" stroke-width="5.5"/>
<path d="M1159.75 1230.50 V1042.25 H1205.25 V1230.50" fill="#8fb1cb" stroke="#06303f" stroke-width="5.5"/>
<path d="M893.8 1198.0 H920.2 M893.8 1211.0 H920.2 M907.0 1198.0 V1211.0" stroke="#000" stroke-width="1.6" fill="none"/>
<path d="M968.8 1183.0 H995.2 M968.8 1198.0 H995.2 M982.0 1183.0 V1198.0" stroke="#266c9c" stroke-width="1.6" fill="none"/>
<path d="M1093.8 1007.0 H1120.2 M1093.8 1058.8 H1120.2 M1107.0 1007.0 V1058.8" stroke="#000" stroke-width="1.6" fill="none"/>
<path d="M1168.8 1016.8 H1195.2 M1168.8 1062.0 H1195.2 M1182.0 1016.8 V1062.0" stroke="#266c9c" stroke-width="1.6" fill="none"/>
<line x1="856.8" y1="853.7" x2="856.8" y2="1232.3" stroke="#000" stroke-width="3.6"/>
<line x1="841.0" y1="1230.5" x2="1232.5" y2="1230.5" stroke="#000" stroke-width="3.6"/>
<line x1="841.0" y1="855.5" x2="856.8" y2="855.5" stroke="#000" stroke-width="3.6"/>
<text x="834.8" y="864.7" font-size="28.60" font-weight="bold" fill="#000" text-anchor="end" >20000</text>
<line x1="841.0" y1="949.2" x2="856.8" y2="949.2" stroke="#000" stroke-width="3.6"/>
<text x="834.8" y="958.5" font-size="28.60" font-weight="bold" fill="#000" text-anchor="end" >15000</text>
<line x1="841.0" y1="1043.0" x2="856.8" y2="1043.0" stroke="#000" stroke-width="3.6"/>
<text x="834.8" y="1052.2" font-size="28.60" font-weight="bold" fill="#000" text-anchor="end" >10000</text>
<line x1="841.0" y1="1136.8" x2="856.8" y2="1136.8" stroke="#000" stroke-width="3.6"/>
<text x="834.8" y="1146.0" font-size="28.60" font-weight="bold" fill="#000" text-anchor="end" >5000</text>
<text x="834.8" y="1239.7" font-size="28.60" font-weight="bold" fill="#000" text-anchor="end" >0</text>
<line x1="944.5" y1="1230.5" x2="944.5" y2="1246.5" stroke="#000" stroke-width="3.6"/>
<line x1="1145.0" y1="1230.5" x2="1145.0" y2="1246.5" stroke="#000" stroke-width="3.6"/>
<text x="940.7" y="1278.0" font-size="28.50" font-weight="bold" fill="#000" text-anchor="middle" textLength="95.6" lengthAdjust="spacingAndGlyphs" >Unstim</text>
<text x="1144.7" y="1278.0" font-size="28.50" font-weight="bold" fill="#000" text-anchor="middle" textLength="230.2" lengthAdjust="spacingAndGlyphs" >Activated (eLNP)</text>
<circle cx="896.2" cy="1188.0" r="8.1" fill="none" stroke="#000" stroke-width="3.0"/>
<circle cx="917.0" cy="1193.8" r="8.1" fill="none" stroke="#000" stroke-width="3.0"/>
<circle cx="888.8" cy="1201.2" r="8.1" fill="none" stroke="#000" stroke-width="3.0"/>
<circle cx="896.2" cy="1203.0" r="8.1" fill="none" stroke="#000" stroke-width="3.0"/>
<circle cx="903.8" cy="1207.5" r="8.1" fill="none" stroke="#000" stroke-width="3.0"/>
<circle cx="925.0" cy="1207.5" r="8.1" fill="none" stroke="#000" stroke-width="3.0"/>
<circle cx="908.8" cy="1210.0" r="8.1" fill="none" stroke="#000" stroke-width="3.0"/>
<circle cx="888.8" cy="1218.0" r="8.1" fill="none" stroke="#000" stroke-width="3.0"/>
<circle cx="917.0" cy="1220.0" r="8.1" fill="none" stroke="#000" stroke-width="3.0"/>
<circle cx="982.0" cy="1155.5" r="8.1" fill="none" stroke="#266c9c" stroke-width="3.0"/>
<circle cx="991.2" cy="1180.0" r="8.1" fill="none" stroke="#266c9c" stroke-width="3.0"/>
<circle cx="999.5" cy="1183.8" r="8.1" fill="none" stroke="#266c9c" stroke-width="3.0"/>
<circle cx="982.0" cy="1185.0" r="8.1" fill="none" stroke="#266c9c" stroke-width="3.0"/>
<circle cx="973.8" cy="1196.2" r="8.1" fill="none" stroke="#266c9c" stroke-width="3.0"/>
<circle cx="964.2" cy="1202.0" r="8.1" fill="none" stroke="#266c9c" stroke-width="3.0"/>
<circle cx="982.0" cy="1202.5" r="8.1" fill="none" stroke="#266c9c" stroke-width="3.0"/>
<circle cx="991.2" cy="1198.8" r="8.1" fill="none" stroke="#266c9c" stroke-width="3.0"/>
<circle cx="999.5" cy="1211.2" r="8.1" fill="none" stroke="#266c9c" stroke-width="3.0"/>
<circle cx="1106.8" cy="925.5" r="8.1" fill="none" stroke="#000" stroke-width="3.0"/>
<circle cx="1106.8" cy="940.5" r="8.1" fill="none" stroke="#000" stroke-width="3.0"/>
<circle cx="1106.8" cy="955.5" r="8.1" fill="none" stroke="#000" stroke-width="3.0"/>
<circle cx="1106.8" cy="990.8" r="8.1" fill="none" stroke="#000" stroke-width="3.0"/>
<circle cx="1106.8" cy="1074.2" r="8.1" fill="none" stroke="#000" stroke-width="3.0"/>
<circle cx="1101.2" cy="1093.0" r="8.1" fill="none" stroke="#000" stroke-width="3.0"/>
<circle cx="1089.2" cy="1106.8" r="8.1" fill="none" stroke="#000" stroke-width="3.0"/>
<circle cx="1112.5" cy="1106.2" r="8.1" fill="none" stroke="#000" stroke-width="3.0"/>
<circle cx="1124.5" cy="1103.0" r="8.1" fill="none" stroke="#000" stroke-width="3.0"/>
<circle cx="1176.2" cy="960.0" r="8.1" fill="none" stroke="#266c9c" stroke-width="3.0"/>
<circle cx="1200.0" cy="967.5" r="8.1" fill="none" stroke="#266c9c" stroke-width="3.0"/>
<circle cx="1188.0" cy="971.2" r="8.1" fill="none" stroke="#266c9c" stroke-width="3.0"/>
<circle cx="1176.2" cy="974.5" r="8.1" fill="none" stroke="#266c9c" stroke-width="3.0"/>
<circle cx="1164.5" cy="1085.0" r="8.1" fill="none" stroke="#266c9c" stroke-width="3.0"/>
<circle cx="1176.2" cy="1095.0" r="8.1" fill="none" stroke="#266c9c" stroke-width="3.0"/>
<circle cx="1188.0" cy="1098.8" r="8.1" fill="none" stroke="#266c9c" stroke-width="3.0"/>
<circle cx="1200.0" cy="1095.0" r="8.1" fill="none" stroke="#266c9c" stroke-width="3.0"/>
<circle cx="1164.5" cy="1105.0" r="8.1" fill="none" stroke="#266c9c" stroke-width="3.0"/>
<text x="1038.0" y="1392.0" font-size="31.30" font-weight="normal" fill="#000" text-anchor="start" textLength="78.0" lengthAdjust="spacingAndGlyphs"  stroke="#000" stroke-width="0.45">CD14</text>
<text x="1117.0" y="1380.5" font-size="19.50" font-weight="normal" fill="#000" text-anchor="start" textLength="35.0" lengthAdjust="spacingAndGlyphs"  stroke="#000" stroke-width="0.30">dim</text>
<line x1="990.5" y1="1478.2" x2="1208.8" y2="1478.2" stroke="#000" stroke-width="1.8"/>
<text x="1099.5" y="1478.8" font-size="56.00" font-weight="bold" fill="#000" text-anchor="middle" textLength="90.0" lengthAdjust="spacingAndGlyphs" >****</text>
<line x1="932.0" y1="1533.2" x2="1142.5" y2="1533.2" stroke="#000" stroke-width="1.8"/>
<text x="1038.0" y="1533.8" font-size="56.00" font-weight="bold" fill="#000" text-anchor="middle" textLength="90.0" lengthAdjust="spacingAndGlyphs" >****</text>
<line x1="1123.0" y1="1578.8" x2="1214.5" y2="1578.8" stroke="#000" stroke-width="1.8"/>
<text x="1168.8" y="1579.3" font-size="56.00" font-weight="bold" fill="#000" text-anchor="middle" textLength="22.4" lengthAdjust="spacingAndGlyphs" >*</text>
<path d="M900.75 1951.50 V1899.75 H945.25 V1951.50" fill="#9b9b9b" stroke="#000" stroke-width="5.5"/>
<path d="M975.75 1951.50 V1906.50 H1020.25 V1951.50" fill="#8fb1cb" stroke="#06303f" stroke-width="5.5"/>
<path d="M1101.00 1951.50 V1772.75 H1146.00 V1951.50" fill="#9b9b9b" stroke="#000" stroke-width="5.5"/>
<path d="M1175.75 1951.50 V1827.25 H1221.00 V1951.50" fill="#8fb1cb" stroke="#06303f" stroke-width="5.5"/>
<path d="M909.8 1890.0 H936.2 M909.8 1904.0 H936.2 M923.0 1890.0 V1904.0" stroke="#000" stroke-width="1.6" fill="none"/>
<path d="M984.8 1897.0 H1011.2 M984.8 1910.5 H1011.2 M998.0 1897.0 V1910.5" stroke="#266c9c" stroke-width="1.6" fill="none"/>
<path d="M1109.8 1750.5 H1136.2 M1109.8 1788.0 H1136.2 M1123.0 1750.5 V1788.0" stroke="#000" stroke-width="1.6" fill="none"/>
<path d="M1185.5 1815.0 H1212.0 M1185.5 1834.0 H1212.0 M1198.8 1815.0 V1834.0" stroke="#266c9c" stroke-width="1.6" fill="none"/>
<line x1="872.6" y1="1575.2" x2="872.6" y2="1953.3" stroke="#000" stroke-width="3.6"/>
<line x1="856.8" y1="1951.5" x2="1249.4" y2="1951.5" stroke="#000" stroke-width="3.6"/>
<line x1="856.8" y1="1577.0" x2="872.6" y2="1577.0" stroke="#000" stroke-width="3.6"/>
<text x="850.2" y="1586.2" font-size="28.60" font-weight="bold" fill="#000" text-anchor="end" >100000</text>
<line x1="856.8" y1="1651.9" x2="872.6" y2="1651.9" stroke="#000" stroke-width="3.6"/>
<text x="850.2" y="1661.1" font-size="28.60" font-weight="bold" fill="#000" text-anchor="end" >80000</text>
<line x1="856.8" y1="1726.8" x2="872.6" y2="1726.8" stroke="#000" stroke-width="3.6"/>
<text x="850.2" y="1736.0" font-size="28.60" font-weight="bold" fill="#000" text-anchor="end" >60000</text>
<line x1="856.8" y1="1801.7" x2="872.6" y2="1801.7" stroke="#000" stroke-width="3.6"/>
<text x="850.2" y="1810.9" font-size="28.60" font-weight="bold" fill="#000" text-anchor="end" >40000</text>
<line x1="856.8" y1="1876.6" x2="872.6" y2="1876.6" stroke="#000" stroke-width="3.6"/>
<text x="850.2" y="1885.8" font-size="28.60" font-weight="bold" fill="#000" text-anchor="end" >20000</text>
<text x="850.2" y="1960.7" font-size="28.60" font-weight="bold" fill="#000" text-anchor="end" >0</text>
<line x1="960.5" y1="1951.5" x2="960.5" y2="1967.5" stroke="#000" stroke-width="3.6"/>
<line x1="1161.0" y1="1951.5" x2="1161.0" y2="1967.5" stroke="#000" stroke-width="3.6"/>
<text x="956.5" y="2000.0" font-size="28.50" font-weight="bold" fill="#000" text-anchor="middle" textLength="95.6" lengthAdjust="spacingAndGlyphs" >Unstim</text>
<text x="1161.0" y="2000.0" font-size="28.50" font-weight="bold" fill="#000" text-anchor="middle" textLength="230.2" lengthAdjust="spacingAndGlyphs" >Activated (eLNP)</text>
<circle cx="913.8" cy="1881.2" r="8.1" fill="none" stroke="#000" stroke-width="3.0"/>
<circle cx="922.5" cy="1885.0" r="8.1" fill="none" stroke="#000" stroke-width="3.0"/>
<circle cx="905.0" cy="1888.8" r="8.1" fill="none" stroke="#000" stroke-width="3.0"/>
<circle cx="913.8" cy="1892.5" r="8.1" fill="none" stroke="#000" stroke-width="3.0"/>
<circle cx="941.2" cy="1895.5" r="8.1" fill="none" stroke="#000" stroke-width="3.0"/>
<circle cx="922.5" cy="1902.5" r="8.1" fill="none" stroke="#000" stroke-width="3.0"/>
<circle cx="933.8" cy="1900.0" r="8.1" fill="none" stroke="#000" stroke-width="3.0"/>
<circle cx="905.0" cy="1911.2" r="8.1" fill="none" stroke="#000" stroke-width="3.0"/>
<circle cx="940.5" cy="1912.5" r="8.1" fill="none" stroke="#000" stroke-width="3.0"/>
<circle cx="998.0" cy="1854.2" r="8.1" fill="none" stroke="#266c9c" stroke-width="3.0"/>
<circle cx="1007.0" cy="1892.5" r="8.1" fill="none" stroke="#266c9c" stroke-width="3.0"/>
<circle cx="998.0" cy="1896.2" r="8.1" fill="none" stroke="#266c9c" stroke-width="3.0"/>
<circle cx="1015.5" cy="1901.2" r="8.1" fill="none" stroke="#266c9c" stroke-width="3.0"/>
<circle cx="980.0" cy="1902.5" r="8.1" fill="none" stroke="#266c9c" stroke-width="3.0"/>
<circle cx="1007.0" cy="1905.0" r="8.1" fill="none" stroke="#266c9c" stroke-width="3.0"/>
<circle cx="988.8" cy="1907.5" r="8.1" fill="none" stroke="#266c9c" stroke-width="3.0"/>
<circle cx="998.0" cy="1912.5" r="8.1" fill="none" stroke="#266c9c" stroke-width="3.0"/>
<circle cx="1010.0" cy="1910.0" r="8.1" fill="none" stroke="#266c9c" stroke-width="3.0"/>
<circle cx="998.0" cy="1952.0" r="8.1" fill="none" stroke="#266c9c" stroke-width="3.0"/>
<circle cx="1123.0" cy="1624.5" r="8.1" fill="none" stroke="#000" stroke-width="3.0"/>
<circle cx="1105.5" cy="1760.5" r="8.1" fill="none" stroke="#000" stroke-width="3.0"/>
<circle cx="1141.2" cy="1773.0" r="8.1" fill="none" stroke="#000" stroke-width="3.0"/>
<circle cx="1123.0" cy="1777.5" r="8.1" fill="none" stroke="#000" stroke-width="3.0"/>
<circle cx="1105.5" cy="1778.8" r="8.1" fill="none" stroke="#000" stroke-width="3.0"/>
<circle cx="1141.2" cy="1789.5" r="8.1" fill="none" stroke="#000" stroke-width="3.0"/>
<circle cx="1123.0" cy="1799.5" r="8.1" fill="none" stroke="#000" stroke-width="3.0"/>
<circle cx="1141.2" cy="1805.5" r="8.1" fill="none" stroke="#000" stroke-width="3.0"/>
<circle cx="1105.5" cy="1816.2" r="8.1" fill="none" stroke="#000" stroke-width="3.0"/>
<circle cx="1198.8" cy="1773.0" r="8.1" fill="none" stroke="#266c9c" stroke-width="3.0"/>
<circle cx="1198.8" cy="1788.8" r="8.1" fill="none" stroke="#266c9c" stroke-width="3.0"/>
<circle cx="1198.8" cy="1810.0" r="8.1" fill="none" stroke="#266c9c" stroke-width="3.0"/>
<circle cx="1216.2" cy="1827.5" r="8.1" fill="none" stroke="#266c9c" stroke-width="3.0"/>
<circle cx="1192.5" cy="1833.8" r="8.1" fill="none" stroke="#266c9c" stroke-width="3.0"/>
<circle cx="1180.8" cy="1838.8" r="8.1" fill="none" stroke="#266c9c" stroke-width="3.0"/>
<circle cx="1216.2" cy="1843.0" r="8.1" fill="none" stroke="#266c9c" stroke-width="3.0"/>
<circle cx="1204.5" cy="1844.5" r="8.1" fill="none" stroke="#266c9c" stroke-width="3.0"/>
<circle cx="1180.8" cy="1857.0" r="8.1" fill="none" stroke="#266c9c" stroke-width="3.0"/>
</g>
</svg></body></html>
